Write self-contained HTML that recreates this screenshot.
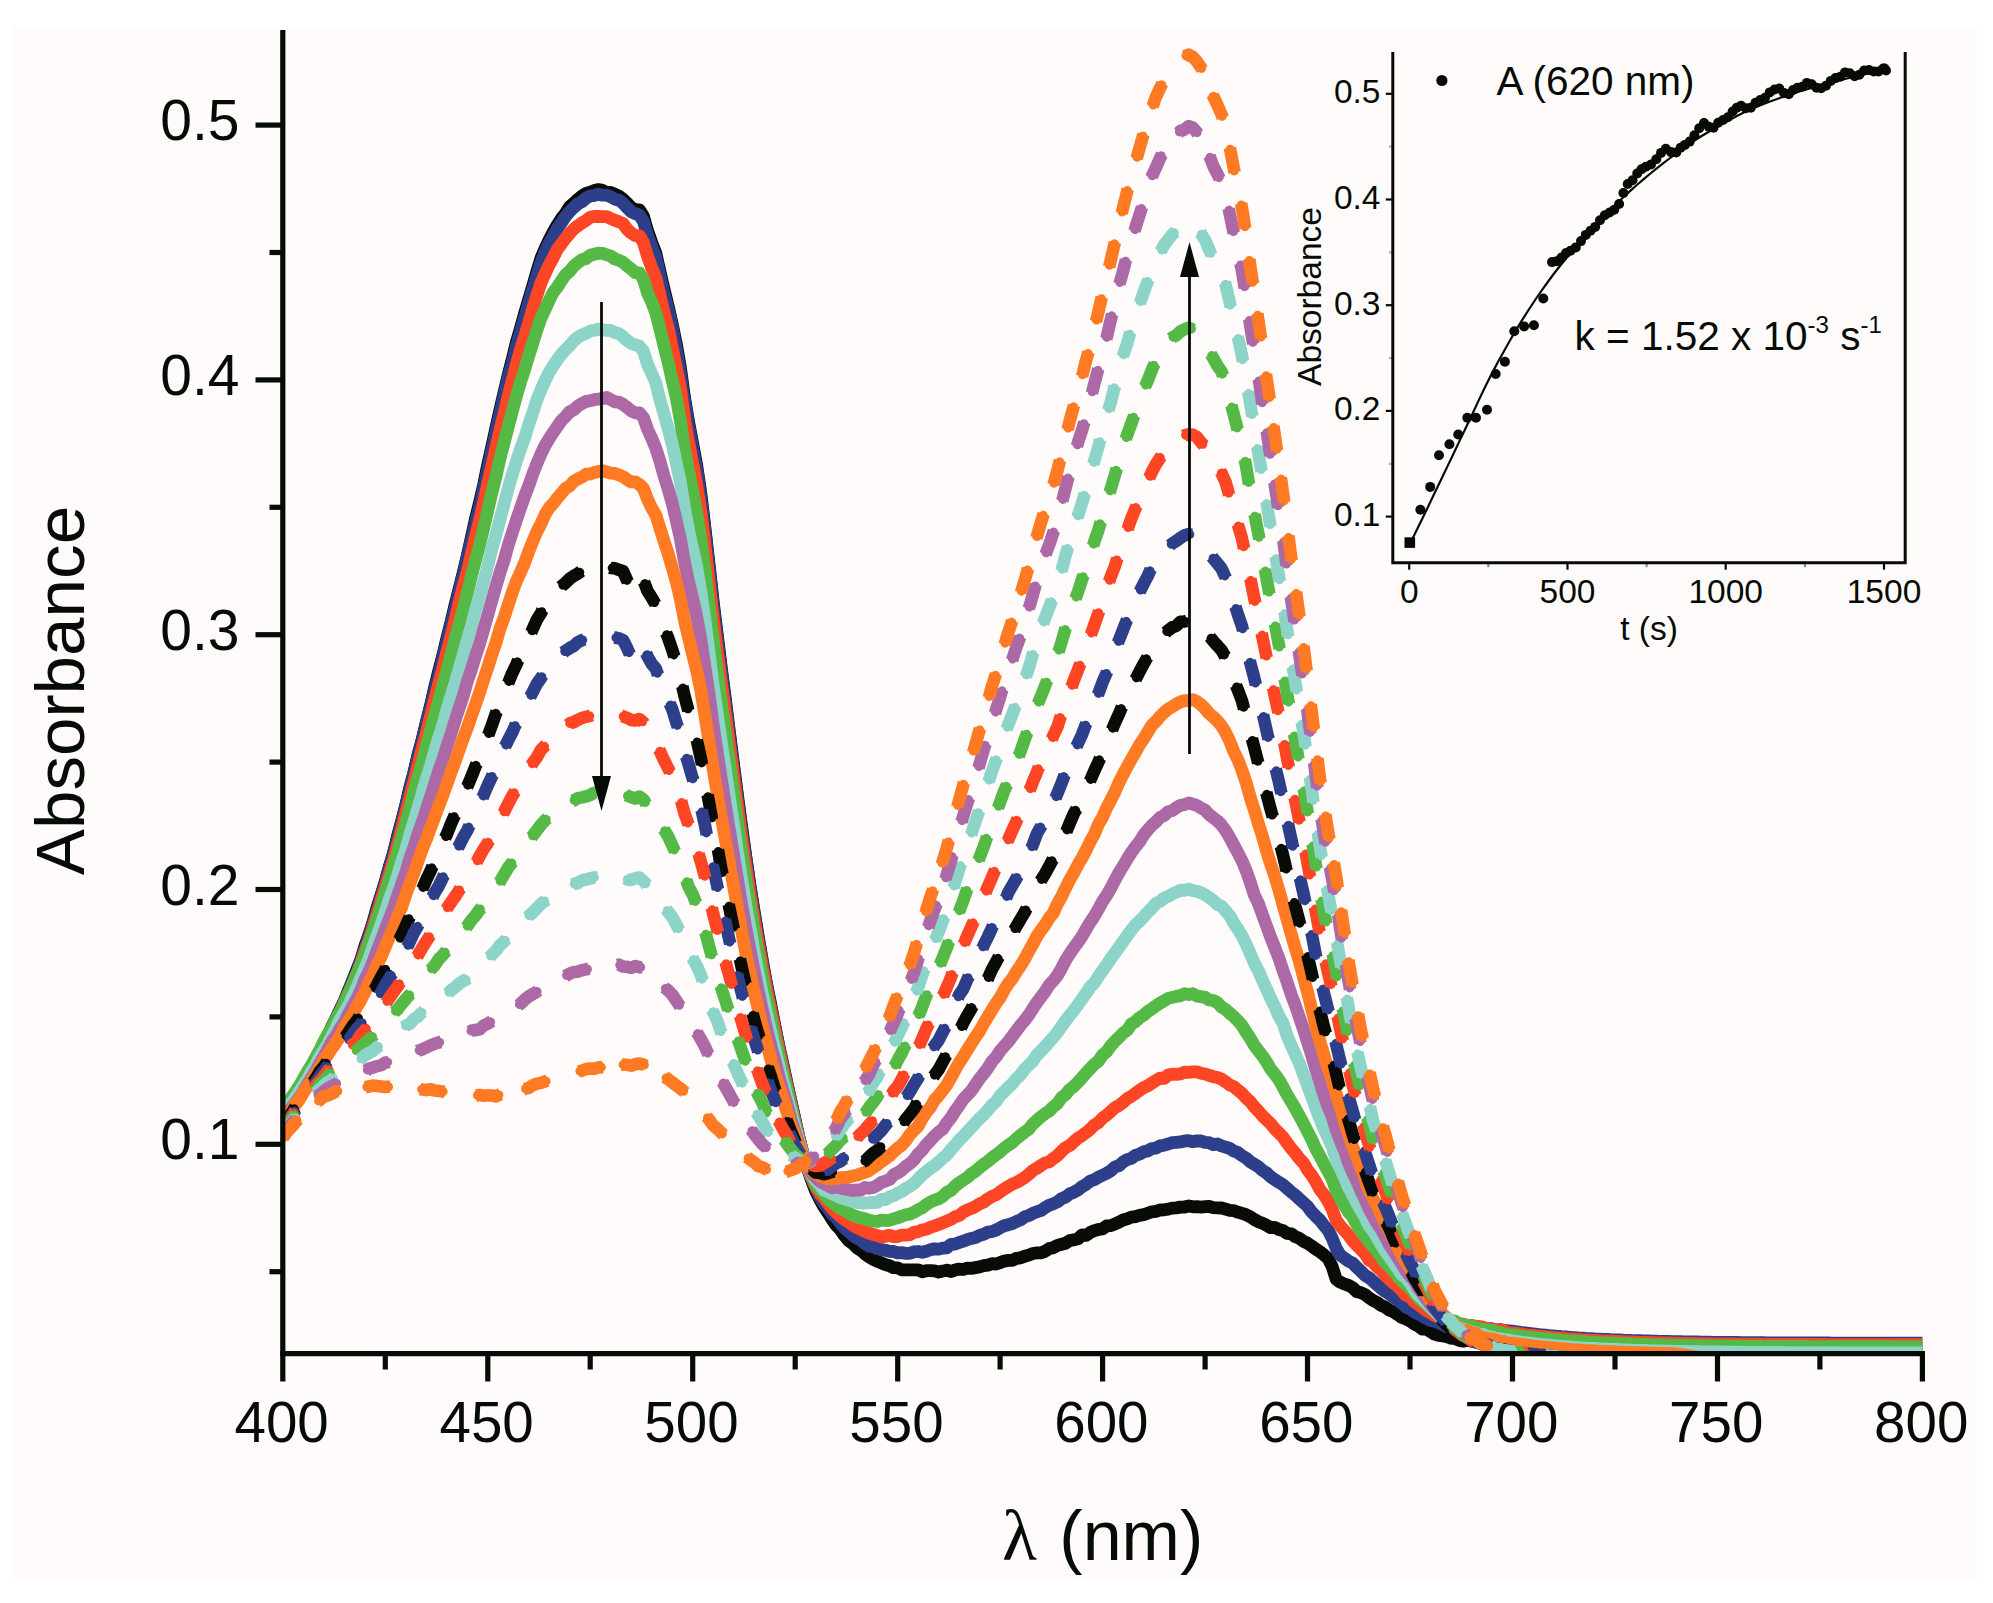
<!DOCTYPE html>
<html lang="en"><head><meta charset="utf-8"><title>Absorbance spectra</title>
<style>html,body{margin:0;padding:0;background:#fff}body{width:1993px;height:1603px;overflow:hidden}svg{display:block}</style>
</head><body>
<svg width="1993" height="1603" viewBox="0 0 1993 1603">
<defs><clipPath id="plot"><rect x="281.8" y="20" width="1641.1" height="1335.1"/></clipPath></defs>
<rect x="13.5" y="26.5" width="1963.5" height="1552.5" fill="#fefbfa"/>
<g clip-path="url(#plot)" fill="none" stroke-linejoin="round">
<path d="M282.8,1115.3 L286.9,1110.5 L291.0,1104.0 L295.1,1097.3 L299.2,1091.1 L303.3,1083.4 L307.4,1075.9 L311.5,1069.1 L315.6,1059.5 L319.7,1051.6 L323.8,1043.9 L327.9,1035.3 L332.0,1026.5 L336.1,1018.4 L340.2,1009.6 L344.3,1001.2 L348.4,990.7 L352.5,981.0 L356.6,970.4 L360.7,960.2 L364.8,946.5 L368.9,934.9 L373.0,922.2 L377.1,907.4 L381.2,894.7 L385.3,881.4 L389.4,866.5 L393.5,853.0 L397.6,836.0 L401.7,821.0 L405.8,805.0 L409.9,787.4 L414.0,772.3 L418.1,754.4 L422.2,739.4 L426.3,722.3 L430.4,706.2 L434.5,688.2 L438.6,671.5 L442.7,656.0 L446.8,638.7 L450.9,622.5 L455.0,605.2 L459.1,589.1 L463.2,572.8 L467.3,555.8 L471.4,537.4 L475.5,518.9 L479.6,502.3 L483.7,484.6 L487.8,464.5 L491.8,446.7 L495.9,428.1 L500.0,409.6 L504.1,392.1 L508.2,375.0 L512.3,359.0 L516.4,342.3 L520.5,328.2 L524.6,313.4 L528.7,299.6 L532.8,285.7 L536.9,271.4 L541.0,258.1 L545.1,248.4 L549.2,239.7 L553.3,231.9 L557.4,224.8 L561.5,218.3 L565.6,213.2 L569.7,206.5 L573.8,203.0 L577.9,199.4 L582.0,196.0 L586.1,193.4 L590.2,192.3 L594.3,190.5 L598.4,189.6 L602.5,190.4 L606.6,192.4 L610.7,192.5 L614.8,194.1 L618.9,196.2 L623.0,199.2 L627.1,203.1 L631.2,207.5 L635.3,209.6 L639.4,209.9 L643.5,216.5 L647.6,231.0 L651.7,242.5 L655.8,253.1 L659.9,271.3 L664.0,289.2 L668.1,305.8 L672.2,324.1 L676.3,343.8 L680.4,367.5 L684.5,397.8 L688.6,422.1 L692.7,443.9 L696.8,465.9 L700.9,493.9 L705.0,528.8 L709.1,564.7 L713.2,602.2 L717.3,635.3 L721.4,669.0 L725.5,700.5 L729.6,733.8 L733.7,765.9 L737.8,797.8 L741.9,828.7 L746.0,858.1 L750.1,886.5 L754.2,912.0 L758.3,937.1 L762.4,961.1 L766.5,983.8 L770.6,1003.9 L774.7,1025.7 L778.8,1045.9 L782.9,1064.3 L787.0,1083.5 L791.1,1102.4 L795.2,1120.8 L799.3,1138.9 L803.4,1155.1 L807.5,1168.3 L811.6,1180.5 L815.7,1191.2 L819.8,1199.4 L823.9,1206.8 L828.0,1212.9 L832.1,1219.4 L836.2,1225.4 L840.3,1229.6 L844.4,1235.5 L848.5,1240.5 L852.6,1243.4 L856.7,1247.7 L860.8,1250.2 L864.9,1253.8 L869.0,1256.9 L873.1,1259.4 L877.2,1261.2 L881.3,1262.8 L885.4,1264.6 L889.5,1265.7 L893.6,1267.7 L897.7,1267.9 L901.7,1269.9 L905.8,1269.8 L909.9,1269.8 L914.0,1269.8 L918.1,1269.8 L922.2,1271.8 L926.3,1270.7 L930.4,1270.6 L934.5,1270.9 L938.6,1272.0 L942.7,1271.1 L946.8,1270.1 L950.9,1271.6 L955.0,1270.0 L959.1,1269.1 L963.2,1269.5 L967.3,1268.2 L971.4,1268.4 L975.5,1267.6 L979.6,1266.9 L983.7,1265.7 L987.8,1265.1 L991.9,1263.7 L996.0,1264.0 L1000.1,1262.6 L1004.2,1261.1 L1008.3,1260.4 L1012.4,1260.4 L1016.5,1258.3 L1020.6,1257.8 L1024.7,1256.2 L1028.8,1255.1 L1032.9,1253.5 L1037.0,1252.9 L1041.1,1252.8 L1045.2,1251.2 L1049.3,1248.6 L1053.4,1247.7 L1057.5,1245.4 L1061.6,1244.3 L1065.7,1243.2 L1069.8,1240.5 L1073.9,1239.9 L1078.0,1238.9 L1082.1,1234.9 L1086.2,1235.4 L1090.3,1232.4 L1094.4,1230.6 L1098.5,1229.5 L1102.6,1228.9 L1106.7,1225.8 L1110.8,1225.6 L1114.9,1224.0 L1119.0,1222.1 L1123.1,1220.0 L1127.2,1218.9 L1131.3,1217.2 L1135.4,1216.7 L1139.5,1215.3 L1143.6,1214.7 L1147.7,1213.3 L1151.8,1211.8 L1155.9,1211.4 L1160.0,1210.0 L1164.1,1209.8 L1168.2,1209.1 L1172.3,1208.1 L1176.4,1207.9 L1180.5,1207.1 L1184.6,1207.0 L1188.7,1205.9 L1192.8,1206.8 L1196.9,1206.7 L1201.0,1207.1 L1205.1,1206.6 L1209.2,1206.5 L1213.3,1207.7 L1217.4,1207.8 L1221.5,1208.0 L1225.6,1209.2 L1229.7,1210.4 L1233.8,1210.6 L1237.9,1212.2 L1242.0,1213.4 L1246.1,1214.7 L1250.2,1216.7 L1254.3,1219.5 L1258.4,1221.7 L1262.5,1223.2 L1266.6,1225.2 L1270.7,1227.7 L1274.8,1227.4 L1278.9,1229.5 L1283.0,1230.7 L1287.1,1233.4 L1291.2,1233.8 L1295.3,1236.7 L1299.4,1238.4 L1303.5,1241.4 L1307.5,1243.2 L1311.6,1246.0 L1315.7,1249.0 L1319.8,1251.6 L1323.9,1254.8 L1328.0,1258.3 L1332.1,1266.3 L1336.2,1279.3 L1340.3,1282.2 L1344.4,1284.0 L1348.5,1285.4 L1352.6,1287.6 L1356.7,1291.5 L1360.8,1292.7 L1364.9,1294.5 L1369.0,1297.7 L1373.1,1300.5 L1377.2,1302.5 L1381.3,1305.4 L1385.4,1307.3 L1389.5,1310.2 L1393.6,1311.9 L1397.7,1314.6 L1401.8,1317.5 L1405.9,1318.9 L1410.0,1320.9 L1414.1,1324.0 L1418.2,1326.0 L1422.3,1329.1 L1426.4,1329.1 L1430.5,1331.7 L1434.6,1334.2 L1438.7,1335.5 L1442.8,1336.0 L1446.9,1336.6 L1451.0,1338.2 L1455.1,1338.7 L1459.2,1340.4 L1463.3,1341.1 L1467.4,1340.3 L1471.5,1340.9 L1475.6,1342.1 L1479.7,1342.3 L1483.8,1344.4 L1487.9,1344.9 L1492.0,1344.9 L1496.1,1345.1 L1500.2,1346.9 L1504.3,1346.6 L1508.4,1348.5 L1512.5,1348.8 L1516.6,1349.4 L1520.7,1350.0 L1524.8,1350.5 L1528.9,1351.0 L1533.0,1351.5 L1537.1,1351.9 L1541.2,1352.4 L1545.3,1352.8 L1549.4,1353.2 L1553.5,1353.6 L1557.6,1353.9 L1561.7,1354.3 L1565.8,1354.6 L1569.9,1354.9 L1574.0,1355.2 L1578.1,1355.5 L1582.2,1355.7 L1586.3,1356.0 L1590.4,1356.2 L1594.5,1356.4 L1598.6,1356.7 L1602.7,1356.9 L1606.8,1357.1 L1610.9,1357.2 L1615.0,1357.4 L1619.1,1357.6 L1623.2,1357.8 L1627.3,1357.9 L1631.4,1358.1 L1635.5,1358.2 L1639.6,1358.3 L1643.7,1358.4 L1647.8,1358.6 L1651.9,1358.7 L1656.0,1358.8 L1660.1,1358.9 L1664.2,1359.0 L1668.3,1359.1 L1672.4,1359.2 L1676.5,1359.2 L1680.6,1359.3 L1684.7,1359.4 L1688.8,1359.5 L1692.9,1359.5 L1697.0,1359.6 L1701.1,1359.7 L1705.2,1359.7 L1709.3,1359.8 L1713.4,1359.8 L1717.5,1359.9 L1721.5,1359.9 L1725.6,1360.0 L1729.7,1360.0 L1733.8,1360.1 L1737.9,1360.1 L1742.0,1360.1 L1746.1,1360.2 L1750.2,1360.2 L1754.3,1360.2 L1758.4,1360.3 L1762.5,1360.3 L1766.6,1360.3 L1770.7,1360.4 L1774.8,1360.4 L1778.9,1360.4 L1783.0,1360.4 L1787.1,1360.5 L1791.2,1360.5 L1795.3,1360.5 L1799.4,1360.5 L1803.5,1360.5 L1807.6,1360.6 L1811.7,1360.6 L1815.8,1360.6 L1819.9,1360.6 L1824.0,1360.6 L1828.1,1360.6 L1832.2,1360.6 L1836.3,1360.6 L1840.4,1360.7 L1844.5,1360.7 L1848.6,1360.7 L1852.7,1360.7 L1856.8,1360.7 L1860.9,1360.7 L1865.0,1360.7 L1869.1,1360.7 L1873.2,1360.7 L1877.3,1360.7 L1881.4,1360.7 L1885.5,1360.8 L1889.6,1360.8 L1893.7,1360.8 L1897.8,1360.8 L1901.9,1360.8 L1906.0,1360.8 L1910.1,1360.8 L1914.2,1360.8 L1918.3,1360.8 L1922.4,1360.8" stroke="#080b06" stroke-width="12.8"/>
<path d="M282.8,1115.9 L286.9,1111.2 L291.0,1103.9 L295.1,1097.5 L299.2,1091.7 L303.3,1082.8 L307.4,1076.5 L311.5,1067.9 L315.6,1060.6 L319.7,1051.6 L323.8,1043.1 L327.9,1036.0 L332.0,1028.0 L336.1,1018.7 L340.2,1009.4 L344.3,1001.1 L348.4,991.8 L352.5,981.3 L356.6,972.6 L360.7,960.3 L364.8,948.9 L368.9,935.5 L373.0,923.2 L377.1,910.0 L381.2,895.8 L385.3,882.4 L389.4,867.3 L393.5,853.2 L397.6,838.0 L401.7,822.5 L405.8,805.4 L409.9,789.5 L414.0,772.6 L418.1,756.1 L422.2,740.5 L426.3,723.4 L430.4,707.2 L434.5,690.8 L438.6,674.7 L442.7,658.2 L446.8,640.9 L450.9,623.4 L455.0,608.4 L459.1,590.9 L463.2,574.6 L467.3,557.0 L471.4,540.1 L475.5,522.4 L479.6,507.0 L483.7,487.6 L487.8,469.3 L491.8,450.1 L495.9,431.8 L500.0,413.5 L504.1,395.2 L508.2,377.3 L512.3,363.4 L516.4,346.5 L520.5,331.7 L524.6,317.8 L528.7,303.4 L532.8,289.4 L536.9,275.9 L541.0,262.7 L545.1,251.7 L549.2,243.3 L553.3,235.9 L557.4,228.4 L561.5,222.5 L565.6,216.5 L569.7,211.5 L573.8,207.5 L577.9,203.7 L582.0,201.8 L586.1,198.1 L590.2,195.8 L594.3,195.6 L598.4,194.1 L602.5,195.2 L606.6,195.1 L610.7,196.7 L614.8,199.1 L618.9,200.2 L623.0,203.2 L627.1,207.7 L631.2,211.7 L635.3,213.7 L639.4,215.0 L643.5,221.5 L647.6,235.8 L651.7,246.4 L655.8,257.0 L659.9,275.5 L664.0,293.8 L668.1,308.8 L672.2,327.2 L676.3,348.8 L680.4,372.3 L684.5,400.9 L688.6,424.3 L692.7,447.7 L696.8,469.0 L700.9,497.3 L705.0,531.4 L709.1,567.5 L713.2,605.2 L717.3,638.3 L721.4,670.6 L725.5,703.5 L729.6,736.1 L733.7,768.6 L737.8,800.5 L741.9,831.9 L746.0,859.0 L750.1,887.3 L754.2,913.9 L758.3,939.0 L762.4,962.5 L766.5,984.5 L770.6,1006.4 L774.7,1025.3 L778.8,1046.4 L782.9,1065.7 L787.0,1083.8 L791.1,1101.9 L795.2,1120.7 L799.3,1139.6 L803.4,1155.2 L807.5,1168.3 L811.6,1179.0 L815.7,1188.5 L819.8,1196.9 L823.9,1203.6 L828.0,1208.4 L832.1,1214.3 L836.2,1217.6 L840.3,1222.9 L844.4,1227.9 L848.5,1231.5 L852.6,1235.2 L856.7,1238.1 L860.8,1240.1 L864.9,1243.8 L869.0,1246.2 L873.1,1246.8 L877.2,1248.6 L881.3,1249.6 L885.4,1250.3 L889.5,1251.4 L893.6,1251.5 L897.7,1252.9 L901.7,1252.7 L905.8,1253.3 L909.9,1253.3 L914.0,1251.9 L918.1,1251.5 L922.2,1252.3 L926.3,1251.2 L930.4,1249.8 L934.5,1248.8 L938.6,1249.1 L942.7,1248.1 L946.8,1247.8 L950.9,1244.4 L955.0,1244.1 L959.1,1242.5 L963.2,1241.2 L967.3,1239.6 L971.4,1238.4 L975.5,1237.5 L979.6,1235.4 L983.7,1234.3 L987.8,1232.1 L991.9,1231.7 L996.0,1230.0 L1000.1,1227.8 L1004.2,1225.8 L1008.3,1224.7 L1012.4,1223.5 L1016.5,1221.5 L1020.6,1219.9 L1024.7,1216.8 L1028.8,1215.5 L1032.9,1213.3 L1037.0,1211.8 L1041.1,1210.4 L1045.2,1207.5 L1049.3,1205.2 L1053.4,1203.7 L1057.5,1201.8 L1061.6,1198.7 L1065.7,1197.0 L1069.8,1193.8 L1073.9,1192.2 L1078.0,1189.9 L1082.1,1186.6 L1086.2,1184.3 L1090.3,1181.0 L1094.4,1179.7 L1098.5,1177.1 L1102.6,1175.2 L1106.7,1173.2 L1110.8,1170.7 L1114.9,1167.0 L1119.0,1165.6 L1123.1,1162.0 L1127.2,1159.6 L1131.3,1158.4 L1135.4,1155.3 L1139.5,1154.1 L1143.6,1151.8 L1147.7,1150.9 L1151.8,1148.6 L1155.9,1148.1 L1160.0,1145.9 L1164.1,1145.2 L1168.2,1144.0 L1172.3,1142.7 L1176.4,1142.3 L1180.5,1141.9 L1184.6,1141.0 L1188.7,1140.7 L1192.8,1141.7 L1196.9,1140.8 L1201.0,1141.0 L1205.1,1142.4 L1209.2,1142.7 L1213.3,1144.6 L1217.4,1144.0 L1221.5,1145.9 L1225.6,1147.1 L1229.7,1148.4 L1233.8,1151.1 L1237.9,1152.6 L1242.0,1155.6 L1246.1,1158.1 L1250.2,1161.8 L1254.3,1164.3 L1258.4,1166.8 L1262.5,1170.4 L1266.6,1173.0 L1270.7,1176.9 L1274.8,1179.6 L1278.9,1182.3 L1283.0,1184.8 L1287.1,1188.4 L1291.2,1192.0 L1295.3,1195.1 L1299.4,1199.1 L1303.5,1202.8 L1307.5,1206.3 L1311.6,1211.8 L1315.7,1216.2 L1319.8,1220.0 L1323.9,1225.3 L1328.0,1230.1 L1332.1,1238.0 L1336.2,1248.4 L1340.3,1255.2 L1344.4,1258.1 L1348.5,1261.2 L1352.6,1263.0 L1356.7,1267.3 L1360.8,1271.1 L1364.9,1275.2 L1369.0,1277.7 L1373.1,1281.2 L1377.2,1284.9 L1381.3,1288.6 L1385.4,1291.6 L1389.5,1294.1 L1393.6,1297.3 L1397.7,1300.4 L1401.8,1303.4 L1405.9,1307.1 L1410.0,1308.8 L1414.1,1312.0 L1418.2,1313.9 L1422.3,1315.9 L1426.4,1318.6 L1430.5,1320.6 L1434.6,1321.2 L1438.7,1322.9 L1442.8,1324.7 L1446.9,1326.9 L1451.0,1326.0 L1455.1,1326.1 L1459.2,1326.2 L1463.3,1327.4 L1467.4,1327.4 L1471.5,1327.1 L1475.6,1326.8 L1479.7,1328.4 L1483.8,1328.1 L1487.9,1329.0 L1492.0,1328.7 L1496.1,1330.1 L1500.2,1329.5 L1504.3,1330.4 L1508.4,1330.8 L1512.5,1331.2 L1516.6,1331.8 L1520.7,1332.4 L1524.8,1332.9 L1528.9,1333.4 L1533.0,1333.9 L1537.1,1334.4 L1541.2,1334.8 L1545.3,1335.2 L1549.4,1335.6 L1553.5,1336.0 L1557.6,1336.3 L1561.7,1336.7 L1565.8,1337.0 L1569.9,1337.3 L1574.0,1337.6 L1578.1,1337.9 L1582.2,1338.1 L1586.3,1338.4 L1590.4,1338.6 L1594.5,1338.9 L1598.6,1339.1 L1602.7,1339.3 L1606.8,1339.5 L1610.9,1339.7 L1615.0,1339.8 L1619.1,1340.0 L1623.2,1340.2 L1627.3,1340.3 L1631.4,1340.5 L1635.5,1340.6 L1639.6,1340.7 L1643.7,1340.9 L1647.8,1341.0 L1651.9,1341.1 L1656.0,1341.2 L1660.1,1341.3 L1664.2,1341.4 L1668.3,1341.5 L1672.4,1341.6 L1676.5,1341.7 L1680.6,1341.7 L1684.7,1341.8 L1688.8,1341.9 L1692.9,1342.0 L1697.0,1342.0 L1701.1,1342.1 L1705.2,1342.1 L1709.3,1342.2 L1713.4,1342.3 L1717.5,1342.3 L1721.5,1342.4 L1725.6,1342.4 L1729.7,1342.4 L1733.8,1342.5 L1737.9,1342.5 L1742.0,1342.6 L1746.1,1342.6 L1750.2,1342.6 L1754.3,1342.7 L1758.4,1342.7 L1762.5,1342.7 L1766.6,1342.8 L1770.7,1342.8 L1774.8,1342.8 L1778.9,1342.8 L1783.0,1342.9 L1787.1,1342.9 L1791.2,1342.9 L1795.3,1342.9 L1799.4,1342.9 L1803.5,1343.0 L1807.6,1343.0 L1811.7,1343.0 L1815.8,1343.0 L1819.9,1343.0 L1824.0,1343.0 L1828.1,1343.0 L1832.2,1343.1 L1836.3,1343.1 L1840.4,1343.1 L1844.5,1343.1 L1848.6,1343.1 L1852.7,1343.1 L1856.8,1343.1 L1860.9,1343.1 L1865.0,1343.1 L1869.1,1343.1 L1873.2,1343.2 L1877.3,1343.2 L1881.4,1343.2 L1885.5,1343.2 L1889.6,1343.2 L1893.7,1343.2 L1897.8,1343.2 L1901.9,1343.2 L1906.0,1343.2 L1910.1,1343.2 L1914.2,1343.2 L1918.3,1343.2 L1922.4,1343.2" stroke="#2d3f8b" stroke-width="12.8"/>
<path d="M282.8,1117.7 L286.9,1110.7 L291.0,1104.6 L295.1,1098.2 L299.2,1091.7 L303.3,1084.8 L307.4,1077.0 L311.5,1069.1 L315.6,1061.4 L319.7,1053.4 L323.8,1045.4 L327.9,1036.8 L332.0,1028.6 L336.1,1020.9 L340.2,1011.5 L344.3,1002.6 L348.4,993.4 L352.5,984.3 L356.6,974.1 L360.7,963.8 L364.8,951.1 L368.9,940.7 L373.0,927.1 L377.1,914.0 L381.2,899.9 L385.3,886.7 L389.4,873.3 L393.5,859.5 L397.6,844.4 L401.7,828.6 L405.8,812.9 L409.9,797.0 L414.0,781.1 L418.1,764.7 L422.2,748.1 L426.3,733.4 L430.4,716.9 L434.5,700.0 L438.6,684.5 L442.7,669.0 L446.8,652.2 L450.9,636.7 L455.0,620.0 L459.1,602.8 L463.2,586.2 L467.3,571.7 L471.4,553.7 L475.5,536.1 L479.6,520.4 L483.7,502.2 L487.8,483.4 L491.8,466.3 L495.9,447.6 L500.0,430.1 L504.1,413.9 L508.2,395.9 L512.3,380.0 L516.4,364.2 L520.5,349.5 L524.6,336.6 L528.7,322.9 L532.8,308.2 L536.9,295.3 L541.0,282.9 L545.1,273.7 L549.2,264.8 L553.3,257.5 L557.4,249.2 L561.5,243.6 L565.6,238.4 L569.7,233.4 L573.8,229.0 L577.9,225.8 L582.0,222.8 L586.1,220.5 L590.2,217.3 L594.3,216.5 L598.4,216.5 L602.5,216.6 L606.6,216.6 L610.7,218.5 L614.8,220.3 L618.9,221.8 L623.0,223.5 L627.1,229.3 L631.2,233.0 L635.3,235.7 L639.4,235.6 L643.5,242.7 L647.6,256.5 L651.7,267.7 L655.8,277.4 L659.9,295.2 L664.0,312.8 L668.1,327.6 L672.2,347.2 L676.3,367.7 L680.4,387.9 L684.5,418.4 L688.6,442.2 L692.7,463.3 L696.8,485.2 L700.9,511.9 L705.0,545.0 L709.1,581.1 L713.2,617.5 L717.3,651.5 L721.4,682.6 L725.5,713.5 L729.6,745.0 L733.7,777.1 L737.8,808.0 L741.9,839.1 L746.0,867.3 L750.1,894.7 L754.2,919.7 L758.3,943.8 L762.4,967.1 L766.5,988.5 L770.6,1008.8 L774.7,1029.1 L778.8,1049.3 L782.9,1068.3 L787.0,1086.5 L791.1,1104.9 L795.2,1122.6 L799.3,1139.8 L803.4,1155.5 L807.5,1167.8 L811.6,1177.8 L815.7,1186.5 L819.8,1193.7 L823.9,1198.0 L828.0,1203.3 L832.1,1208.7 L836.2,1212.6 L840.3,1216.3 L844.4,1219.5 L848.5,1222.2 L852.6,1225.2 L856.7,1227.6 L860.8,1229.6 L864.9,1231.3 L869.0,1233.1 L873.1,1234.4 L877.2,1235.6 L881.3,1237.1 L885.4,1236.3 L889.5,1235.3 L893.6,1236.6 L897.7,1236.5 L901.7,1235.2 L905.8,1235.2 L909.9,1234.6 L914.0,1232.3 L918.1,1231.6 L922.2,1230.0 L926.3,1229.3 L930.4,1227.3 L934.5,1226.0 L938.6,1224.5 L942.7,1222.8 L946.8,1221.0 L950.9,1219.4 L955.0,1216.8 L959.1,1215.5 L963.2,1212.2 L967.3,1210.0 L971.4,1208.4 L975.5,1206.4 L979.6,1203.8 L983.7,1202.1 L987.8,1198.9 L991.9,1196.5 L996.0,1194.9 L1000.1,1191.9 L1004.2,1189.0 L1008.3,1186.5 L1012.4,1184.2 L1016.5,1182.4 L1020.6,1180.1 L1024.7,1177.5 L1028.8,1174.3 L1032.9,1170.5 L1037.0,1168.2 L1041.1,1165.4 L1045.2,1162.9 L1049.3,1161.9 L1053.4,1158.4 L1057.5,1155.5 L1061.6,1151.3 L1065.7,1147.6 L1069.8,1145.4 L1073.9,1141.7 L1078.0,1138.2 L1082.1,1135.6 L1086.2,1132.5 L1090.3,1129.2 L1094.4,1124.9 L1098.5,1122.5 L1102.6,1118.0 L1106.7,1115.1 L1110.8,1111.4 L1114.9,1107.6 L1119.0,1105.5 L1123.1,1102.4 L1127.2,1098.6 L1131.3,1096.4 L1135.4,1093.4 L1139.5,1090.3 L1143.6,1087.6 L1147.7,1085.9 L1151.8,1083.1 L1155.9,1080.5 L1160.0,1078.2 L1164.1,1078.4 L1168.2,1075.1 L1172.3,1074.2 L1176.4,1074.4 L1180.5,1073.9 L1184.6,1072.2 L1188.7,1072.3 L1192.8,1071.9 L1196.9,1071.9 L1201.0,1073.3 L1205.1,1074.0 L1209.2,1075.4 L1213.3,1076.7 L1217.4,1077.6 L1221.5,1079.1 L1225.6,1081.8 L1229.7,1085.0 L1233.8,1086.6 L1237.9,1090.2 L1242.0,1093.3 L1246.1,1098.1 L1250.2,1101.6 L1254.3,1106.9 L1258.4,1111.0 L1262.5,1115.9 L1266.6,1119.9 L1270.7,1123.7 L1274.8,1128.8 L1278.9,1132.8 L1283.0,1137.1 L1287.1,1143.0 L1291.2,1148.3 L1295.3,1153.1 L1299.4,1158.7 L1303.5,1163.0 L1307.5,1169.8 L1311.6,1175.1 L1315.7,1181.7 L1319.8,1189.3 L1323.9,1194.6 L1328.0,1201.2 L1332.1,1209.1 L1336.2,1220.4 L1340.3,1225.9 L1344.4,1230.5 L1348.5,1235.0 L1352.6,1240.8 L1356.7,1245.2 L1360.8,1249.3 L1364.9,1253.6 L1369.0,1260.1 L1373.1,1262.3 L1377.2,1267.2 L1381.3,1270.3 L1385.4,1275.4 L1389.5,1279.6 L1393.6,1283.1 L1397.7,1286.3 L1401.8,1290.5 L1405.9,1295.2 L1410.0,1296.8 L1414.1,1301.4 L1418.2,1304.3 L1422.3,1307.5 L1426.4,1310.7 L1430.5,1313.0 L1434.6,1315.3 L1438.7,1317.3 L1442.8,1318.9 L1446.9,1320.7 L1451.0,1322.8 L1455.1,1323.2 L1459.2,1323.5 L1463.3,1324.3 L1467.4,1325.3 L1471.5,1325.4 L1475.6,1326.2 L1479.7,1326.7 L1483.8,1327.3 L1487.9,1329.1 L1492.0,1329.8 L1496.1,1329.5 L1500.2,1330.1 L1504.3,1330.7 L1508.4,1333.5 L1512.5,1332.8 L1516.6,1333.4 L1520.7,1333.9 L1524.8,1334.5 L1528.9,1335.0 L1533.0,1335.4 L1537.1,1335.9 L1541.2,1336.3 L1545.3,1336.7 L1549.4,1337.1 L1553.5,1337.5 L1557.6,1337.9 L1561.7,1338.2 L1565.8,1338.5 L1569.9,1338.8 L1574.0,1339.1 L1578.1,1339.4 L1582.2,1339.7 L1586.3,1339.9 L1590.4,1340.2 L1594.5,1340.4 L1598.6,1340.6 L1602.7,1340.8 L1606.8,1341.0 L1610.9,1341.2 L1615.0,1341.4 L1619.1,1341.5 L1623.2,1341.7 L1627.3,1341.9 L1631.4,1342.0 L1635.5,1342.1 L1639.6,1342.3 L1643.7,1342.4 L1647.8,1342.5 L1651.9,1342.6 L1656.0,1342.7 L1660.1,1342.8 L1664.2,1342.9 L1668.3,1343.0 L1672.4,1343.1 L1676.5,1343.2 L1680.6,1343.3 L1684.7,1343.4 L1688.8,1343.4 L1692.9,1343.5 L1697.0,1343.6 L1701.1,1343.6 L1705.2,1343.7 L1709.3,1343.7 L1713.4,1343.8 L1717.5,1343.8 L1721.5,1343.9 L1725.6,1343.9 L1729.7,1344.0 L1733.8,1344.0 L1737.9,1344.1 L1742.0,1344.1 L1746.1,1344.1 L1750.2,1344.2 L1754.3,1344.2 L1758.4,1344.2 L1762.5,1344.3 L1766.6,1344.3 L1770.7,1344.3 L1774.8,1344.3 L1778.9,1344.4 L1783.0,1344.4 L1787.1,1344.4 L1791.2,1344.4 L1795.3,1344.4 L1799.4,1344.5 L1803.5,1344.5 L1807.6,1344.5 L1811.7,1344.5 L1815.8,1344.5 L1819.9,1344.5 L1824.0,1344.6 L1828.1,1344.6 L1832.2,1344.6 L1836.3,1344.6 L1840.4,1344.6 L1844.5,1344.6 L1848.6,1344.6 L1852.7,1344.6 L1856.8,1344.6 L1860.9,1344.7 L1865.0,1344.7 L1869.1,1344.7 L1873.2,1344.7 L1877.3,1344.7 L1881.4,1344.7 L1885.5,1344.7 L1889.6,1344.7 L1893.7,1344.7 L1897.8,1344.7 L1901.9,1344.7 L1906.0,1344.7 L1910.1,1344.7 L1914.2,1344.7 L1918.3,1344.7 L1922.4,1344.7" stroke="#fe4524" stroke-width="12.8"/>
<path d="M282.8,1109.7 L286.9,1104.0 L291.0,1098.2 L295.1,1092.1 L299.2,1086.1 L303.3,1078.9 L307.4,1071.6 L311.5,1065.3 L315.6,1057.6 L319.7,1050.0 L323.8,1041.6 L327.9,1034.0 L332.0,1027.3 L336.1,1019.1 L340.2,1011.9 L344.3,1003.3 L348.4,994.1 L352.5,984.7 L356.6,974.9 L360.7,965.4 L364.8,955.1 L368.9,942.7 L373.0,931.1 L377.1,918.4 L381.2,905.8 L385.3,892.6 L389.4,879.4 L393.5,866.0 L397.6,852.8 L401.7,837.5 L405.8,823.4 L409.9,807.9 L414.0,791.5 L418.1,777.1 L422.2,762.8 L426.3,746.2 L430.4,731.4 L434.5,716.1 L438.6,701.4 L442.7,686.0 L446.8,670.9 L450.9,655.8 L455.0,639.0 L459.1,624.6 L463.2,609.1 L467.3,593.3 L471.4,576.2 L475.5,560.7 L479.6,545.0 L483.7,528.0 L487.8,510.4 L491.8,492.8 L495.9,476.9 L500.0,458.5 L504.1,442.7 L508.2,426.9 L512.3,411.3 L516.4,396.1 L520.5,382.1 L524.6,369.8 L528.7,355.9 L532.8,343.0 L536.9,329.9 L541.0,318.2 L545.1,309.3 L549.2,300.4 L553.3,292.2 L557.4,287.0 L561.5,280.6 L565.6,274.7 L569.7,271.1 L573.8,266.2 L577.9,262.7 L582.0,259.7 L586.1,258.5 L590.2,255.2 L594.3,254.2 L598.4,253.1 L602.5,253.4 L606.6,254.8 L610.7,256.1 L614.8,258.9 L618.9,260.3 L623.0,262.3 L627.1,265.9 L631.2,269.0 L635.3,272.6 L639.4,272.8 L643.5,279.7 L647.6,293.1 L651.7,302.1 L655.8,313.0 L659.9,328.8 L664.0,345.8 L668.1,362.2 L672.2,380.3 L676.3,397.8 L680.4,420.7 L684.5,448.9 L688.6,470.6 L692.7,491.2 L696.8,513.0 L700.9,539.1 L705.0,570.6 L709.1,605.3 L713.2,639.4 L717.3,672.1 L721.4,703.0 L725.5,732.9 L729.6,763.1 L733.7,792.8 L737.8,823.7 L741.9,852.9 L746.0,880.8 L750.1,904.9 L754.2,931.1 L758.3,953.6 L762.4,976.4 L766.5,996.8 L770.6,1016.6 L774.7,1037.1 L778.8,1054.7 L782.9,1073.4 L787.0,1089.1 L791.1,1107.5 L795.2,1125.6 L799.3,1141.6 L803.4,1155.2 L807.5,1166.5 L811.6,1175.6 L815.7,1184.3 L819.8,1189.9 L823.9,1193.7 L828.0,1199.1 L832.1,1202.2 L836.2,1205.6 L840.3,1208.6 L844.4,1210.1 L848.5,1213.0 L852.6,1215.2 L856.7,1216.8 L860.8,1217.9 L864.9,1218.7 L869.0,1220.3 L873.1,1221.0 L877.2,1221.5 L881.3,1220.1 L885.4,1220.5 L889.5,1220.3 L893.6,1218.9 L897.7,1217.8 L901.7,1216.2 L905.8,1214.8 L909.9,1214.1 L914.0,1212.2 L918.1,1209.7 L922.2,1207.8 L926.3,1204.7 L930.4,1202.0 L934.5,1200.1 L938.6,1198.9 L942.7,1196.4 L946.8,1192.4 L950.9,1190.5 L955.0,1186.2 L959.1,1182.8 L963.2,1180.2 L967.3,1177.5 L971.4,1173.7 L975.5,1171.2 L979.6,1167.7 L983.7,1164.3 L987.8,1161.4 L991.9,1157.9 L996.0,1154.7 L1000.1,1151.9 L1004.2,1148.1 L1008.3,1145.1 L1012.4,1142.5 L1016.5,1138.5 L1020.6,1135.2 L1024.7,1132.0 L1028.8,1129.2 L1032.9,1123.9 L1037.0,1120.2 L1041.1,1116.7 L1045.2,1113.5 L1049.3,1111.0 L1053.4,1106.7 L1057.5,1103.5 L1061.6,1097.5 L1065.7,1094.4 L1069.8,1089.3 L1073.9,1086.3 L1078.0,1082.1 L1082.1,1077.6 L1086.2,1072.8 L1090.3,1068.5 L1094.4,1064.3 L1098.5,1061.1 L1102.6,1054.9 L1106.7,1051.6 L1110.8,1045.8 L1114.9,1041.2 L1119.0,1037.4 L1123.1,1033.0 L1127.2,1030.2 L1131.3,1024.1 L1135.4,1021.7 L1139.5,1017.7 L1143.6,1015.3 L1147.7,1011.5 L1151.8,1009.1 L1155.9,1005.8 L1160.0,1003.2 L1164.1,1000.9 L1168.2,998.4 L1172.3,997.4 L1176.4,996.4 L1180.5,995.6 L1184.6,993.7 L1188.7,994.6 L1192.8,993.7 L1196.9,996.1 L1201.0,996.7 L1205.1,997.4 L1209.2,1000.0 L1213.3,1000.5 L1217.4,1002.7 L1221.5,1007.0 L1225.6,1009.4 L1229.7,1013.2 L1233.8,1016.6 L1237.9,1020.8 L1242.0,1025.5 L1246.1,1032.1 L1250.2,1038.3 L1254.3,1045.4 L1258.4,1050.8 L1262.5,1055.9 L1266.6,1062.0 L1270.7,1069.1 L1274.8,1074.3 L1278.9,1079.7 L1283.0,1087.1 L1287.1,1094.8 L1291.2,1101.5 L1295.3,1108.5 L1299.4,1115.9 L1303.5,1123.5 L1307.5,1131.3 L1311.6,1139.3 L1315.7,1148.5 L1319.8,1155.8 L1323.9,1163.8 L1328.0,1171.4 L1332.1,1178.9 L1336.2,1190.9 L1340.3,1198.0 L1344.4,1205.3 L1348.5,1212.0 L1352.6,1216.8 L1356.7,1224.6 L1360.8,1230.5 L1364.9,1236.5 L1369.0,1241.6 L1373.1,1246.9 L1377.2,1251.6 L1381.3,1257.2 L1385.4,1262.9 L1389.5,1266.6 L1393.6,1271.2 L1397.7,1276.3 L1401.8,1280.7 L1405.9,1284.4 L1410.0,1288.0 L1414.1,1292.9 L1418.2,1297.6 L1422.3,1300.9 L1426.4,1304.3 L1430.5,1308.6 L1434.6,1310.4 L1438.7,1314.1 L1442.8,1315.9 L1446.9,1318.3 L1451.0,1320.5 L1455.1,1321.1 L1459.2,1323.8 L1463.3,1325.0 L1467.4,1325.4 L1471.5,1325.8 L1475.6,1327.5 L1479.7,1329.1 L1483.8,1329.1 L1487.9,1330.1 L1492.0,1330.1 L1496.1,1332.2 L1500.2,1332.7 L1504.3,1333.8 L1508.4,1335.0 L1512.5,1334.8 L1516.6,1335.4 L1520.7,1336.0 L1524.8,1336.5 L1528.9,1337.0 L1533.0,1337.5 L1537.1,1337.9 L1541.2,1338.4 L1545.3,1338.8 L1549.4,1339.2 L1553.5,1339.6 L1557.6,1339.9 L1561.7,1340.3 L1565.8,1340.6 L1569.9,1340.9 L1574.0,1341.2 L1578.1,1341.4 L1582.2,1341.7 L1586.3,1342.0 L1590.4,1342.2 L1594.5,1342.4 L1598.6,1342.6 L1602.7,1342.9 L1606.8,1343.0 L1610.9,1343.2 L1615.0,1343.4 L1619.1,1343.6 L1623.2,1343.7 L1627.3,1343.9 L1631.4,1344.0 L1635.5,1344.2 L1639.6,1344.3 L1643.7,1344.4 L1647.8,1344.6 L1651.9,1344.7 L1656.0,1344.8 L1660.1,1344.9 L1664.2,1345.0 L1668.3,1345.1 L1672.4,1345.2 L1676.5,1345.2 L1680.6,1345.3 L1684.7,1345.4 L1688.8,1345.5 L1692.9,1345.5 L1697.0,1345.6 L1701.1,1345.7 L1705.2,1345.7 L1709.3,1345.8 L1713.4,1345.8 L1717.5,1345.9 L1721.5,1345.9 L1725.6,1346.0 L1729.7,1346.0 L1733.8,1346.1 L1737.9,1346.1 L1742.0,1346.1 L1746.1,1346.2 L1750.2,1346.2 L1754.3,1346.2 L1758.4,1346.3 L1762.5,1346.3 L1766.6,1346.3 L1770.7,1346.3 L1774.8,1346.4 L1778.9,1346.4 L1783.0,1346.4 L1787.1,1346.4 L1791.2,1346.5 L1795.3,1346.5 L1799.4,1346.5 L1803.5,1346.5 L1807.6,1346.5 L1811.7,1346.6 L1815.8,1346.6 L1819.9,1346.6 L1824.0,1346.6 L1828.1,1346.6 L1832.2,1346.6 L1836.3,1346.6 L1840.4,1346.6 L1844.5,1346.7 L1848.6,1346.7 L1852.7,1346.7 L1856.8,1346.7 L1860.9,1346.7 L1865.0,1346.7 L1869.1,1346.7 L1873.2,1346.7 L1877.3,1346.7 L1881.4,1346.7 L1885.5,1346.7 L1889.6,1346.7 L1893.7,1346.8 L1897.8,1346.8 L1901.9,1346.8 L1906.0,1346.8 L1910.1,1346.8 L1914.2,1346.8 L1918.3,1346.8 L1922.4,1346.8" stroke="#55b945" stroke-width="12.8"/>
<path d="M282.8,1116.9 L286.9,1110.9 L291.0,1103.3 L295.1,1098.1 L299.2,1092.1 L303.3,1085.6 L307.4,1079.4 L311.5,1071.8 L315.6,1064.9 L319.7,1057.0 L323.8,1050.7 L327.9,1044.2 L332.0,1035.9 L336.1,1027.9 L340.2,1019.4 L344.3,1012.4 L348.4,1005.5 L352.5,996.7 L356.6,988.3 L360.7,978.4 L364.8,968.9 L368.9,958.8 L373.0,946.7 L377.1,935.6 L381.2,924.2 L385.3,912.1 L389.4,899.2 L393.5,888.1 L397.6,875.7 L401.7,861.9 L405.8,849.7 L409.9,834.5 L414.0,821.5 L418.1,807.6 L422.2,793.3 L426.3,778.8 L430.4,766.4 L434.5,751.7 L438.6,738.2 L442.7,725.3 L446.8,710.1 L450.9,697.0 L455.0,683.4 L459.1,668.9 L463.2,654.8 L467.3,639.8 L471.4,626.2 L475.5,610.4 L479.6,596.3 L483.7,581.5 L487.8,565.9 L491.8,549.5 L495.9,535.0 L500.0,519.5 L504.1,503.8 L508.2,488.3 L512.3,474.4 L516.4,461.3 L520.5,449.1 L524.6,438.1 L528.7,424.5 L532.8,412.7 L536.9,399.9 L541.0,389.8 L545.1,380.5 L549.2,372.4 L553.3,365.6 L557.4,359.5 L561.5,354.1 L565.6,349.7 L569.7,345.6 L573.8,340.7 L577.9,337.1 L582.0,334.9 L586.1,333.3 L590.2,331.0 L594.3,330.2 L598.4,329.1 L602.5,329.9 L606.6,330.3 L610.7,330.4 L614.8,332.5 L618.9,333.6 L623.0,336.7 L627.1,340.4 L631.2,343.5 L635.3,344.9 L639.4,346.2 L643.5,351.3 L647.6,364.5 L651.7,373.4 L655.8,383.0 L659.9,399.5 L664.0,413.9 L668.1,428.5 L672.2,444.0 L676.3,463.0 L680.4,482.4 L684.5,507.7 L688.6,530.6 L692.7,548.9 L696.8,567.6 L700.9,592.0 L705.0,620.6 L709.1,652.9 L713.2,685.5 L717.3,714.1 L721.4,743.1 L725.5,770.8 L729.6,798.6 L733.7,825.9 L737.8,854.6 L741.9,881.3 L746.0,907.0 L750.1,928.2 L754.2,952.5 L758.3,973.8 L762.4,994.3 L766.5,1013.4 L770.6,1031.6 L774.7,1048.4 L778.8,1065.4 L782.9,1081.5 L787.0,1097.8 L791.1,1113.2 L795.2,1128.1 L799.3,1143.6 L803.4,1156.5 L807.5,1167.8 L811.6,1173.9 L815.7,1180.2 L819.8,1184.4 L823.9,1190.4 L828.0,1191.6 L832.1,1193.8 L836.2,1195.5 L840.3,1197.7 L844.4,1198.9 L848.5,1200.1 L852.6,1201.6 L856.7,1202.5 L860.8,1202.8 L864.9,1203.0 L869.0,1202.6 L873.1,1202.5 L877.2,1202.4 L881.3,1199.3 L885.4,1199.5 L889.5,1196.9 L893.6,1195.7 L897.7,1193.2 L901.7,1191.4 L905.8,1188.5 L909.9,1186.3 L914.0,1183.5 L918.1,1179.1 L922.2,1174.8 L926.3,1171.6 L930.4,1168.2 L934.5,1165.6 L938.6,1161.9 L942.7,1158.2 L946.8,1154.9 L950.9,1149.6 L955.0,1145.3 L959.1,1140.3 L963.2,1136.2 L967.3,1131.9 L971.4,1127.3 L975.5,1122.9 L979.6,1118.5 L983.7,1114.8 L987.8,1110.1 L991.9,1105.2 L996.0,1101.7 L1000.1,1095.7 L1004.2,1091.7 L1008.3,1087.5 L1012.4,1083.6 L1016.5,1078.4 L1020.6,1074.7 L1024.7,1069.0 L1028.8,1065.0 L1032.9,1061.1 L1037.0,1054.8 L1041.1,1050.8 L1045.2,1046.4 L1049.3,1041.9 L1053.4,1037.3 L1057.5,1032.2 L1061.6,1026.3 L1065.7,1020.5 L1069.8,1015.3 L1073.9,1010.2 L1078.0,1004.7 L1082.1,998.8 L1086.2,993.1 L1090.3,986.9 L1094.4,982.9 L1098.5,976.3 L1102.6,970.6 L1106.7,964.8 L1110.8,958.6 L1114.9,953.0 L1119.0,947.1 L1123.1,941.6 L1127.2,935.6 L1131.3,930.1 L1135.4,924.8 L1139.5,921.2 L1143.6,917.0 L1147.7,912.1 L1151.8,908.3 L1155.9,903.5 L1160.0,901.4 L1164.1,898.1 L1168.2,896.4 L1172.3,894.0 L1176.4,892.2 L1180.5,890.1 L1184.6,890.3 L1188.7,889.1 L1192.8,890.6 L1196.9,891.3 L1201.0,892.8 L1205.1,894.8 L1209.2,897.5 L1213.3,900.6 L1217.4,904.5 L1221.5,906.1 L1225.6,910.9 L1229.7,915.7 L1233.8,923.1 L1237.9,929.1 L1242.0,935.8 L1246.1,944.0 L1250.2,953.6 L1254.3,963.0 L1258.4,970.9 L1262.5,980.3 L1266.6,989.2 L1270.7,998.4 L1274.8,1006.6 L1278.9,1016.2 L1283.0,1023.1 L1287.1,1035.7 L1291.2,1045.6 L1295.3,1054.2 L1299.4,1063.6 L1303.5,1074.6 L1307.5,1085.6 L1311.6,1096.5 L1315.7,1107.8 L1319.8,1118.8 L1323.9,1128.6 L1328.0,1137.6 L1332.1,1146.7 L1336.2,1160.0 L1340.3,1168.4 L1344.4,1177.3 L1348.5,1185.8 L1352.6,1194.9 L1356.7,1203.2 L1360.8,1210.0 L1364.9,1217.2 L1369.0,1225.7 L1373.1,1231.1 L1377.2,1237.6 L1381.3,1244.7 L1385.4,1251.5 L1389.5,1257.0 L1393.6,1263.0 L1397.7,1268.3 L1401.8,1274.9 L1405.9,1277.6 L1410.0,1282.6 L1414.1,1289.3 L1418.2,1294.9 L1422.3,1298.6 L1426.4,1302.9 L1430.5,1306.7 L1434.6,1311.0 L1438.7,1315.2 L1442.8,1319.4 L1446.9,1320.7 L1451.0,1323.1 L1455.1,1325.9 L1459.2,1327.4 L1463.3,1329.1 L1467.4,1330.6 L1471.5,1332.1 L1475.6,1332.6 L1479.7,1334.9 L1483.8,1334.4 L1487.9,1336.8 L1492.0,1336.9 L1496.1,1338.5 L1500.2,1338.7 L1504.3,1339.8 L1508.4,1340.0 L1512.5,1340.9 L1516.6,1341.5 L1520.7,1342.1 L1524.8,1342.6 L1528.9,1343.1 L1533.0,1343.6 L1537.1,1344.1 L1541.2,1344.5 L1545.3,1344.9 L1549.4,1345.3 L1553.5,1345.7 L1557.6,1346.0 L1561.7,1346.4 L1565.8,1346.7 L1569.9,1347.0 L1574.0,1347.3 L1578.1,1347.6 L1582.2,1347.8 L1586.3,1348.1 L1590.4,1348.3 L1594.5,1348.5 L1598.6,1348.8 L1602.7,1349.0 L1606.8,1349.2 L1610.9,1349.4 L1615.0,1349.5 L1619.1,1349.7 L1623.2,1349.9 L1627.3,1350.0 L1631.4,1350.2 L1635.5,1350.3 L1639.6,1350.4 L1643.7,1350.5 L1647.8,1350.7 L1651.9,1350.8 L1656.0,1350.9 L1660.1,1351.0 L1664.2,1351.1 L1668.3,1351.2 L1672.4,1351.3 L1676.5,1351.3 L1680.6,1351.4 L1684.7,1351.5 L1688.8,1351.6 L1692.9,1351.6 L1697.0,1351.7 L1701.1,1351.8 L1705.2,1351.8 L1709.3,1351.9 L1713.4,1351.9 L1717.5,1352.0 L1721.5,1352.0 L1725.6,1352.1 L1729.7,1352.1 L1733.8,1352.2 L1737.9,1352.2 L1742.0,1352.2 L1746.1,1352.3 L1750.2,1352.3 L1754.3,1352.4 L1758.4,1352.4 L1762.5,1352.4 L1766.6,1352.4 L1770.7,1352.5 L1774.8,1352.5 L1778.9,1352.5 L1783.0,1352.5 L1787.1,1352.6 L1791.2,1352.6 L1795.3,1352.6 L1799.4,1352.6 L1803.5,1352.6 L1807.6,1352.7 L1811.7,1352.7 L1815.8,1352.7 L1819.9,1352.7 L1824.0,1352.7 L1828.1,1352.7 L1832.2,1352.7 L1836.3,1352.7 L1840.4,1352.8 L1844.5,1352.8 L1848.6,1352.8 L1852.7,1352.8 L1856.8,1352.8 L1860.9,1352.8 L1865.0,1352.8 L1869.1,1352.8 L1873.2,1352.8 L1877.3,1352.8 L1881.4,1352.8 L1885.5,1352.9 L1889.6,1352.9 L1893.7,1352.9 L1897.8,1352.9 L1901.9,1352.9 L1906.0,1352.9 L1910.1,1352.9 L1914.2,1352.9 L1918.3,1352.9 L1922.4,1352.9" stroke="#8cd4c8" stroke-width="12.8"/>
<path d="M282.8,1120.8 L286.9,1114.8 L291.0,1108.6 L295.1,1103.5 L299.2,1097.9 L303.3,1091.6 L307.4,1084.2 L311.5,1078.0 L315.6,1071.2 L319.7,1063.5 L323.8,1056.9 L327.9,1049.1 L332.0,1041.5 L336.1,1035.8 L340.2,1028.5 L344.3,1022.4 L348.4,1014.0 L352.5,1006.7 L356.6,998.9 L360.7,990.7 L364.8,979.6 L368.9,971.8 L373.0,961.7 L377.1,950.7 L381.2,940.0 L385.3,929.3 L389.4,918.5 L393.5,908.0 L397.6,895.6 L401.7,883.9 L405.8,872.5 L409.9,858.3 L414.0,846.8 L418.1,833.4 L422.2,822.3 L426.3,809.8 L430.4,797.0 L434.5,784.6 L438.6,771.1 L442.7,760.0 L446.8,746.4 L450.9,734.4 L455.0,720.8 L459.1,708.3 L463.2,695.9 L467.3,681.5 L471.4,669.7 L475.5,655.9 L479.6,643.8 L483.7,629.3 L487.8,615.0 L491.8,600.6 L495.9,586.5 L500.0,572.6 L504.1,560.2 L508.2,545.4 L512.3,532.6 L516.4,520.1 L520.5,508.2 L524.6,496.4 L528.7,485.8 L532.8,474.0 L536.9,463.7 L541.0,453.9 L545.1,445.4 L549.2,438.6 L553.3,432.3 L557.4,426.3 L561.5,420.5 L565.6,416.5 L569.7,411.8 L573.8,409.7 L577.9,406.0 L582.0,403.6 L586.1,401.4 L590.2,400.7 L594.3,399.6 L598.4,399.2 L602.5,398.4 L606.6,397.5 L610.7,399.7 L614.8,401.8 L618.9,402.2 L623.0,404.3 L627.1,407.4 L631.2,410.9 L635.3,412.8 L639.4,413.0 L643.5,417.7 L647.6,429.4 L651.7,438.2 L655.8,448.2 L659.9,461.1 L664.0,475.8 L668.1,488.8 L672.2,503.2 L676.3,520.6 L680.4,538.8 L684.5,562.0 L688.6,581.5 L692.7,598.8 L696.8,616.9 L700.9,639.7 L705.0,667.3 L709.1,695.0 L713.2,725.6 L717.3,752.5 L721.4,779.4 L725.5,806.0 L729.6,830.7 L733.7,855.7 L737.8,881.0 L741.9,906.0 L746.0,928.6 L750.1,950.2 L754.2,970.9 L758.3,991.1 L762.4,1009.8 L766.5,1027.7 L770.6,1044.8 L774.7,1059.4 L778.8,1076.1 L782.9,1090.0 L787.0,1104.1 L791.1,1119.6 L795.2,1132.1 L799.3,1145.9 L803.4,1157.2 L807.5,1166.2 L811.6,1173.3 L815.7,1177.5 L819.8,1181.3 L823.9,1183.5 L828.0,1185.6 L832.1,1187.9 L836.2,1187.2 L840.3,1188.1 L844.4,1188.9 L848.5,1189.7 L852.6,1190.6 L856.7,1189.9 L860.8,1190.0 L864.9,1187.5 L869.0,1188.3 L873.1,1187.5 L877.2,1185.4 L881.3,1182.3 L885.4,1181.1 L889.5,1179.6 L893.6,1174.8 L897.7,1172.7 L901.7,1170.2 L905.8,1166.3 L909.9,1163.6 L914.0,1159.8 L918.1,1154.1 L922.2,1150.1 L926.3,1144.7 L930.4,1140.5 L934.5,1135.9 L938.6,1132.2 L942.7,1129.2 L946.8,1122.8 L950.9,1117.9 L955.0,1111.1 L959.1,1105.6 L963.2,1099.3 L967.3,1095.0 L971.4,1090.8 L975.5,1084.6 L979.6,1078.7 L983.7,1073.6 L987.8,1068.1 L991.9,1061.5 L996.0,1057.0 L1000.1,1050.9 L1004.2,1046.1 L1008.3,1041.7 L1012.4,1036.2 L1016.5,1030.7 L1020.6,1025.2 L1024.7,1020.4 L1028.8,1014.9 L1032.9,1008.6 L1037.0,1002.3 L1041.1,996.9 L1045.2,991.4 L1049.3,984.9 L1053.4,980.5 L1057.5,975.3 L1061.6,968.2 L1065.7,960.1 L1069.8,953.6 L1073.9,947.6 L1078.0,942.1 L1082.1,936.1 L1086.2,929.0 L1090.3,922.1 L1094.4,916.0 L1098.5,908.9 L1102.6,901.2 L1106.7,895.4 L1110.8,888.1 L1114.9,880.1 L1119.0,872.7 L1123.1,866.0 L1127.2,859.1 L1131.3,852.5 L1135.4,846.9 L1139.5,841.9 L1143.6,835.1 L1147.7,830.0 L1151.8,825.4 L1155.9,821.9 L1160.0,817.5 L1164.1,815.5 L1168.2,811.6 L1172.3,810.6 L1176.4,807.6 L1180.5,805.3 L1184.6,804.6 L1188.7,803.0 L1192.8,804.1 L1196.9,805.5 L1201.0,807.9 L1205.1,810.2 L1209.2,814.6 L1213.3,817.8 L1217.4,820.8 L1221.5,825.0 L1225.6,830.5 L1229.7,837.5 L1233.8,845.1 L1237.9,852.7 L1242.0,860.8 L1246.1,870.5 L1250.2,882.0 L1254.3,895.0 L1258.4,903.3 L1262.5,914.8 L1266.6,926.1 L1270.7,937.4 L1274.8,947.5 L1278.9,958.1 L1283.0,970.6 L1287.1,981.9 L1291.2,994.5 L1295.3,1005.2 L1299.4,1017.2 L1303.5,1029.6 L1307.5,1042.1 L1311.6,1055.0 L1315.7,1069.2 L1319.8,1082.3 L1323.9,1095.0 L1328.0,1106.6 L1332.1,1116.5 L1336.2,1130.1 L1340.3,1140.6 L1344.4,1151.0 L1348.5,1162.8 L1352.6,1172.5 L1356.7,1180.8 L1360.8,1190.6 L1364.9,1199.3 L1369.0,1208.6 L1373.1,1216.5 L1377.2,1223.5 L1381.3,1229.4 L1385.4,1237.0 L1389.5,1245.2 L1393.6,1251.1 L1397.7,1257.6 L1401.8,1263.9 L1405.9,1270.8 L1410.0,1275.9 L1414.1,1280.5 L1418.2,1288.1 L1422.3,1293.0 L1426.4,1299.2 L1430.5,1304.8 L1434.6,1309.3 L1438.7,1313.1 L1442.8,1317.1 L1446.9,1321.8 L1451.0,1324.9 L1455.1,1328.2 L1459.2,1331.5 L1463.3,1332.3 L1467.4,1333.6 L1471.5,1335.3 L1475.6,1338.3 L1479.7,1339.1 L1483.8,1340.8 L1487.9,1343.0 L1492.0,1344.2 L1496.1,1345.5 L1500.2,1346.3 L1504.3,1346.3 L1508.4,1348.6 L1512.5,1348.8 L1516.6,1349.4 L1520.7,1350.0 L1524.8,1350.5 L1528.9,1351.0 L1533.0,1351.5 L1537.1,1351.9 L1541.2,1352.4 L1545.3,1352.8 L1549.4,1353.2 L1553.5,1353.6 L1557.6,1353.9 L1561.7,1354.3 L1565.8,1354.6 L1569.9,1354.9 L1574.0,1355.2 L1578.1,1355.5 L1582.2,1355.7 L1586.3,1356.0 L1590.4,1356.2 L1594.5,1356.4 L1598.6,1356.7 L1602.7,1356.9 L1606.8,1357.1 L1610.9,1357.2 L1615.0,1357.4 L1619.1,1357.6 L1623.2,1357.8 L1627.3,1357.9 L1631.4,1358.1 L1635.5,1358.2 L1639.6,1358.3 L1643.7,1358.4 L1647.8,1358.6 L1651.9,1358.7 L1656.0,1358.8 L1660.1,1358.9 L1664.2,1359.0 L1668.3,1359.1 L1672.4,1359.2 L1676.5,1359.2 L1680.6,1359.3 L1684.7,1359.4 L1688.8,1359.5 L1692.9,1359.5 L1697.0,1359.6 L1701.1,1359.7 L1705.2,1359.7 L1709.3,1359.8 L1713.4,1359.8 L1717.5,1359.9 L1721.5,1359.9 L1725.6,1360.0 L1729.7,1360.0 L1733.8,1360.1 L1737.9,1360.1 L1742.0,1360.1 L1746.1,1360.2 L1750.2,1360.2 L1754.3,1360.2 L1758.4,1360.3 L1762.5,1360.3 L1766.6,1360.3 L1770.7,1360.4 L1774.8,1360.4 L1778.9,1360.4 L1783.0,1360.4 L1787.1,1360.5 L1791.2,1360.5 L1795.3,1360.5 L1799.4,1360.5 L1803.5,1360.5 L1807.6,1360.6 L1811.7,1360.6 L1815.8,1360.6 L1819.9,1360.6 L1824.0,1360.6 L1828.1,1360.6 L1832.2,1360.6 L1836.3,1360.6 L1840.4,1360.7 L1844.5,1360.7 L1848.6,1360.7 L1852.7,1360.7 L1856.8,1360.7 L1860.9,1360.7 L1865.0,1360.7 L1869.1,1360.7 L1873.2,1360.7 L1877.3,1360.7 L1881.4,1360.7 L1885.5,1360.8 L1889.6,1360.8 L1893.7,1360.8 L1897.8,1360.8 L1901.9,1360.8 L1906.0,1360.8 L1910.1,1360.8 L1914.2,1360.8 L1918.3,1360.8 L1922.4,1360.8" stroke="#ad69a5" stroke-width="12.8"/>
<path d="M282.8,1124.0 L286.9,1116.4 L291.0,1110.8 L295.1,1105.0 L299.2,1099.9 L303.3,1092.8 L307.4,1086.1 L311.5,1080.5 L315.6,1073.9 L319.7,1067.5 L323.8,1060.4 L327.9,1054.5 L332.0,1048.3 L336.1,1042.6 L340.2,1036.3 L344.3,1028.3 L348.4,1021.2 L352.5,1014.7 L356.6,1007.1 L360.7,1000.5 L364.8,992.1 L368.9,983.3 L373.0,974.7 L377.1,964.5 L381.2,956.8 L385.3,946.8 L389.4,937.0 L393.5,927.4 L397.6,916.4 L401.7,907.3 L405.8,894.6 L409.9,883.6 L414.0,872.8 L418.1,861.0 L422.2,849.4 L426.3,839.6 L430.4,828.3 L434.5,817.4 L438.6,806.2 L442.7,795.6 L446.8,784.5 L450.9,772.6 L455.0,762.0 L459.1,749.9 L463.2,738.6 L467.3,727.9 L471.4,715.9 L475.5,704.4 L479.6,692.5 L483.7,679.5 L487.8,667.5 L491.8,654.5 L495.9,642.9 L500.0,628.8 L504.1,617.6 L508.2,605.1 L512.3,592.3 L516.4,581.3 L520.5,572.3 L524.6,562.8 L528.7,551.4 L532.8,541.4 L536.9,531.6 L541.0,523.7 L545.1,514.5 L549.2,507.7 L553.3,503.5 L557.4,497.9 L561.5,493.3 L565.6,488.3 L569.7,485.9 L573.8,481.3 L577.9,478.9 L582.0,477.0 L586.1,474.2 L590.2,474.0 L594.3,472.5 L598.4,471.5 L602.5,470.8 L606.6,471.9 L610.7,473.1 L614.8,473.4 L618.9,475.0 L623.0,476.6 L627.1,479.5 L631.2,481.9 L635.3,481.8 L639.4,484.4 L643.5,488.5 L647.6,499.4 L651.7,508.0 L655.8,514.9 L659.9,528.1 L664.0,541.1 L668.1,553.6 L672.2,567.5 L676.3,582.1 L680.4,599.1 L684.5,620.6 L688.6,637.7 L692.7,654.7 L696.8,671.2 L700.9,690.9 L705.0,715.9 L709.1,742.1 L713.2,769.5 L717.3,793.3 L721.4,818.0 L725.5,840.3 L729.6,863.8 L733.7,887.1 L737.8,909.6 L741.9,932.7 L746.0,954.2 L750.1,972.7 L754.2,992.1 L758.3,1009.4 L762.4,1026.9 L766.5,1042.4 L770.6,1058.6 L774.7,1073.1 L778.8,1086.6 L782.9,1098.4 L787.0,1112.6 L791.1,1125.0 L795.2,1137.2 L799.3,1147.8 L803.4,1157.7 L807.5,1165.7 L811.6,1169.8 L815.7,1173.9 L819.8,1176.0 L823.9,1177.6 L828.0,1179.1 L832.1,1178.6 L836.2,1178.4 L840.3,1177.6 L844.4,1177.4 L848.5,1177.1 L852.6,1176.0 L856.7,1175.3 L860.8,1173.6 L864.9,1172.4 L869.0,1170.6 L873.1,1167.7 L877.2,1165.0 L881.3,1161.8 L885.4,1158.8 L889.5,1155.7 L893.6,1151.9 L897.7,1148.1 L901.7,1145.2 L905.8,1140.6 L909.9,1134.5 L914.0,1130.3 L918.1,1126.2 L922.2,1118.5 L926.3,1112.2 L930.4,1107.3 L934.5,1100.1 L938.6,1095.6 L942.7,1090.4 L946.8,1085.0 L950.9,1077.6 L955.0,1070.0 L959.1,1062.9 L963.2,1056.7 L967.3,1049.7 L971.4,1043.4 L975.5,1036.9 L979.6,1031.0 L983.7,1023.5 L987.8,1016.8 L991.9,1009.9 L996.0,1003.3 L1000.1,997.7 L1004.2,989.9 L1008.3,983.5 L1012.4,978.4 L1016.5,971.5 L1020.6,965.7 L1024.7,958.9 L1028.8,951.1 L1032.9,944.0 L1037.0,936.0 L1041.1,930.2 L1045.2,924.6 L1049.3,917.8 L1053.4,912.9 L1057.5,903.6 L1061.6,896.5 L1065.7,887.8 L1069.8,879.6 L1073.9,872.5 L1078.0,864.7 L1082.1,857.8 L1086.2,850.0 L1090.3,841.4 L1094.4,834.0 L1098.5,824.1 L1102.6,817.2 L1106.7,807.7 L1110.8,800.1 L1114.9,792.0 L1119.0,782.5 L1123.1,774.4 L1127.2,766.8 L1131.3,759.2 L1135.4,752.3 L1139.5,744.9 L1143.6,738.8 L1147.7,732.1 L1151.8,725.4 L1155.9,721.4 L1160.0,716.5 L1164.1,712.5 L1168.2,709.1 L1172.3,706.7 L1176.4,704.0 L1180.5,701.9 L1184.6,700.6 L1188.7,700.6 L1192.8,699.6 L1196.9,701.5 L1201.0,704.6 L1205.1,708.6 L1209.2,713.6 L1213.3,716.9 L1217.4,721.0 L1221.5,725.8 L1225.6,732.4 L1229.7,741.0 L1233.8,751.6 L1237.9,759.7 L1242.0,770.6 L1246.1,782.4 L1250.2,797.3 L1254.3,810.0 L1258.4,823.7 L1262.5,836.4 L1266.6,850.9 L1270.7,864.3 L1274.8,876.5 L1278.9,890.0 L1283.0,905.2 L1287.1,919.4 L1291.2,934.3 L1295.3,948.2 L1299.4,961.2 L1303.5,977.1 L1307.5,992.0 L1311.6,1008.9 L1315.7,1025.5 L1319.8,1041.0 L1323.9,1055.1 L1328.0,1068.5 L1332.1,1079.7 L1336.2,1094.0 L1340.3,1107.0 L1344.4,1121.0 L1348.5,1133.6 L1352.6,1146.3 L1356.7,1157.0 L1360.8,1167.7 L1364.9,1178.9 L1369.0,1190.7 L1373.1,1198.7 L1377.2,1205.5 L1381.3,1215.2 L1385.4,1223.6 L1389.5,1231.4 L1393.6,1239.1 L1397.7,1247.4 L1401.8,1255.0 L1405.9,1262.3 L1410.0,1268.4 L1414.1,1275.6 L1418.2,1281.3 L1422.3,1287.0 L1426.4,1293.4 L1430.5,1300.2 L1434.6,1305.9 L1438.7,1311.0 L1442.8,1314.3 L1446.9,1317.9 L1451.0,1321.2 L1455.1,1324.4 L1459.2,1327.9 L1463.3,1330.4 L1467.4,1330.5 L1471.5,1332.9 L1475.6,1333.1 L1479.7,1336.9 L1483.8,1337.6 L1487.9,1338.7 L1492.0,1339.1 L1496.1,1339.8 L1500.2,1341.4 L1504.3,1341.5 L1508.4,1343.3 L1512.5,1343.2 L1516.6,1343.8 L1520.7,1344.4 L1524.8,1344.9 L1528.9,1345.4 L1533.0,1345.9 L1537.1,1346.3 L1541.2,1346.8 L1545.3,1347.2 L1549.4,1347.6 L1553.5,1348.0 L1557.6,1348.3 L1561.7,1348.7 L1565.8,1349.0 L1569.9,1349.3 L1574.0,1349.6 L1578.1,1349.9 L1582.2,1350.1 L1586.3,1350.4 L1590.4,1350.6 L1594.5,1350.8 L1598.6,1351.1 L1602.7,1351.3 L1606.8,1351.5 L1610.9,1351.6 L1615.0,1351.8 L1619.1,1352.0 L1623.2,1352.1 L1627.3,1352.3 L1631.4,1352.4 L1635.5,1352.6 L1639.6,1352.7 L1643.7,1352.8 L1647.8,1353.0 L1651.9,1353.1 L1656.0,1353.2 L1660.1,1353.3 L1664.2,1353.4 L1668.3,1353.5 L1672.4,1353.7 L1676.5,1354.0 L1680.6,1354.5 L1684.7,1355.1 L1688.8,1355.7 L1692.9,1356.3 L1697.0,1356.8 L1701.1,1357.3 L1705.2,1357.6 L1709.3,1357.7 L1713.4,1357.8 L1717.5,1357.9 L1721.5,1357.9 L1725.6,1357.9 L1729.7,1358.0 L1733.8,1358.0 L1737.9,1358.1 L1742.0,1358.1 L1746.1,1358.1 L1750.2,1358.2 L1754.3,1358.2 L1758.4,1358.2 L1762.5,1358.3 L1766.6,1358.3 L1770.7,1358.3 L1774.8,1358.4 L1778.9,1358.4 L1783.0,1358.4 L1787.1,1358.4 L1791.2,1358.4 L1795.3,1358.5 L1799.4,1358.5 L1803.5,1358.5 L1807.6,1358.5 L1811.7,1358.5 L1815.8,1358.5 L1819.9,1358.6 L1824.0,1358.6 L1828.1,1358.6 L1832.2,1358.6 L1836.3,1358.6 L1840.4,1358.6 L1844.5,1358.6 L1848.6,1358.6 L1852.7,1358.7 L1856.8,1358.7 L1860.9,1358.7 L1865.0,1358.7 L1869.1,1358.7 L1873.2,1358.7 L1877.3,1358.7 L1881.4,1358.7 L1885.5,1358.7 L1889.6,1358.7 L1893.7,1358.7 L1897.8,1358.7 L1901.9,1358.7 L1906.0,1358.7 L1910.1,1358.7 L1914.2,1358.8 L1918.3,1358.8 L1922.4,1358.8" stroke="#ff7a22" stroke-width="12.8"/>
<defs><path id="d7" d="M282.8,1125.1 L286.9,1120.1 L291.0,1114.1 L295.1,1107.6 L299.2,1102.4 L303.3,1097.5 L307.4,1090.1 L311.5,1084.5 L315.6,1078.7 L319.7,1071.7 L323.8,1066.9 L327.9,1060.6 L332.0,1055.3 L336.1,1048.4 L340.2,1045.2 L344.3,1038.4 L348.4,1032.5 L352.5,1026.2 L356.6,1020.9 L360.7,1014.5 L364.8,1006.5 L368.9,1000.3 L373.0,992.4 L377.1,984.9 L381.2,976.8 L385.3,969.7 L389.4,961.1 L393.5,952.7 L397.6,944.0 L401.7,934.6 L405.8,925.8 L409.9,916.5 L414.0,907.5 L418.1,897.4 L422.2,889.3 L426.3,879.8 L430.4,871.3 L434.5,861.8 L438.6,851.5 L442.7,842.7 L446.8,834.4 L450.9,824.0 L455.0,814.8 L459.1,805.9 L463.2,795.7 L467.3,786.5 L471.4,776.7 L475.5,766.4 L479.6,757.3 L483.7,746.0 L487.8,736.2 L491.8,725.4 L495.9,713.6 L500.0,703.4 L504.1,693.4 L508.2,683.0 L512.3,672.9 L516.4,664.5 L520.5,654.6 L524.6,646.3 L528.7,638.0 L532.8,628.8 L536.9,619.6 L541.0,613.2 L545.1,604.5 L549.2,600.5 L553.3,594.7 L557.4,591.6 L561.5,586.2 L565.6,582.8 L569.7,578.7 L573.8,575.8 L577.9,573.7 L582.0,570.4 L586.1,569.3 L590.2,568.6 L594.3,566.9 L598.4,568.1 L602.5,566.8 L606.6,566.2 L610.7,567.9 L614.8,568.3 L618.9,569.9 L623.0,571.1 L627.1,580.4 L631.2,589.5 L635.3,583.1 L639.4,576.6 L643.5,580.4 L647.6,591.2 L651.7,597.6 L655.8,604.7 L659.9,616.5 L664.0,628.1 L668.1,637.8 L672.2,649.7 L676.3,662.8 L680.4,677.8 L684.5,695.8 L688.6,711.3 L692.7,725.7 L696.8,740.2 L700.9,758.6 L705.0,780.6 L709.1,802.8 L713.2,825.4 L717.3,845.8 L721.4,869.3 L725.5,888.8 L729.6,909.1 L733.7,928.6 L737.8,949.3 L741.9,968.1 L746.0,985.8 L750.1,1003.9 L754.2,1019.7 L758.3,1034.0 L762.4,1049.0 L766.5,1064.3 L770.6,1075.2 L774.7,1088.8 L778.8,1099.5 L782.9,1110.8 L787.0,1121.4 L791.1,1131.9 L795.2,1141.4 L799.3,1151.4 L803.4,1159.7 L807.5,1165.1 L811.6,1168.8 L815.7,1172.7 L819.8,1172.8 L823.9,1174.3 L828.0,1173.1 L832.1,1171.7 L836.2,1171.1 L840.3,1169.6 L844.4,1169.0 L848.5,1167.8 L852.6,1167.0 L856.7,1164.3 L860.8,1162.4 L864.9,1161.1 L869.0,1157.0 L873.1,1153.3 L877.2,1150.5 L881.3,1146.3 L885.4,1143.0 L889.5,1139.1 L893.6,1134.1 L897.7,1129.7 L901.7,1125.4 L905.8,1119.2 L909.9,1114.2 L914.0,1108.8 L918.1,1101.7 L922.2,1094.7 L926.3,1087.2 L930.4,1080.0 L934.5,1075.1 L938.6,1069.6 L942.7,1061.9 L946.8,1054.4 L950.9,1048.1 L955.0,1039.8 L959.1,1031.5 L963.2,1023.1 L967.3,1015.6 L971.4,1008.6 L975.5,1000.7 L979.6,994.0 L983.7,986.1 L987.8,978.7 L991.9,969.5 L996.0,962.1 L1000.1,954.6 L1004.2,948.4 L1008.3,939.9 L1012.4,933.4 L1016.5,926.1 L1020.6,919.1 L1024.7,912.3 L1028.8,904.3 L1032.9,896.7 L1037.0,888.0 L1041.1,880.1 L1045.2,873.5 L1049.3,866.0 L1053.4,858.3 L1057.5,851.5 L1061.6,842.8 L1065.7,833.0 L1069.8,823.0 L1073.9,813.5 L1078.0,806.2 L1082.1,798.0 L1086.2,790.1 L1090.3,780.2 L1094.4,770.7 L1098.5,761.9 L1102.6,752.2 L1106.7,743.1 L1110.8,732.8 L1114.9,722.9 L1119.0,713.8 L1123.1,704.3 L1127.2,695.8 L1131.3,687.7 L1135.4,679.6 L1139.5,671.7 L1143.6,664.0 L1147.7,656.7 L1151.8,649.3 L1155.9,643.4 L1160.0,637.9 L1164.1,633.7 L1168.2,630.4 L1172.3,627.2 L1176.4,625.8 L1180.5,621.8 L1184.6,621.4 L1188.7,620.4 L1192.8,619.6 L1196.9,623.4 L1201.0,626.3 L1205.1,629.9 L1209.2,636.0 L1213.3,641.2 L1217.4,645.6 L1221.5,650.2 L1225.6,657.2 L1229.7,668.1 L1233.8,680.2 L1237.9,690.0 L1242.0,700.9 L1246.1,716.8 L1250.2,732.6 L1254.3,747.6 L1258.4,763.6 L1262.5,779.8 L1266.6,793.8 L1270.7,809.5 L1274.8,823.6 L1278.9,839.3 L1283.0,855.1 L1287.1,872.8 L1291.2,889.6 L1295.3,906.0 L1299.4,921.7 L1303.5,937.3 L1307.5,955.1 L1311.6,972.7 L1315.7,991.8 L1319.8,1010.1 L1323.9,1026.7 L1328.0,1040.8 L1332.1,1056.3 L1336.2,1073.9 L1340.3,1090.9 L1344.4,1105.0 L1348.5,1119.8 L1352.6,1133.9 L1356.7,1147.1 L1360.8,1158.4 L1364.9,1170.2 L1369.0,1182.0 L1373.1,1192.7 L1377.2,1201.4 L1381.3,1211.0 L1385.4,1220.1 L1389.5,1228.6 L1393.6,1238.2 L1397.7,1247.4 L1401.8,1254.6 L1405.9,1262.7 L1410.0,1269.3 L1414.1,1277.6 L1418.2,1284.3 L1422.3,1290.8 L1426.4,1298.0 L1430.5,1304.5 L1434.6,1310.5 L1438.7,1315.7 L1442.8,1320.8 L1446.9,1324.7 L1451.0,1328.8 L1455.1,1330.8 L1459.2,1335.2 L1463.3,1336.6 L1467.4,1339.5 L1471.5,1340.1 L1475.6,1341.5 L1479.7,1344.4 L1483.8,1344.1 L1487.9,1346.8 L1492.0,1347.8 L1496.1,1348.2 L1500.2,1349.8 L1504.3,1349.5 L1508.4,1350.5 L1512.5,1351.4 L1516.6,1352.0 L1520.7,1352.5 L1524.8,1353.1 L1528.9,1353.6 L1533.0,1354.0 L1537.1,1354.5 L1541.2,1354.9 L1545.3,1355.3 L1549.4,1355.7 L1553.5,1356.1 L1557.6,1356.5 L1561.7,1356.8 L1565.8,1357.1 L1569.9,1357.4 L1574.0,1357.7 L1578.1,1358.0 L1582.2,1358.3 L1586.3,1358.5 L1590.4,1358.8 L1594.5,1359.0 L1598.6,1359.2 L1602.7,1359.4 L1606.8,1359.6 L1610.9,1359.8 L1615.0,1360.0 L1619.1,1360.1 L1623.2,1360.3 L1627.3,1360.5 L1631.4,1360.6 L1635.5,1360.7 L1639.6,1360.9 L1643.7,1361.0 L1647.8,1361.1 L1651.9,1361.2 L1656.0,1361.3 L1660.1,1361.4 L1664.2,1361.5 L1668.3,1361.6 L1672.4,1361.7 L1676.5,1361.8 L1680.6,1361.9 L1684.7,1362.0 L1688.8,1362.0 L1692.9,1362.1 L1697.0,1362.2 L1701.1,1362.2 L1705.2,1362.3 L1709.3,1362.3 L1713.4,1362.4 L1717.5,1362.4 L1721.5,1362.5 L1725.6,1362.5 L1729.7,1362.6 L1733.8,1362.6 L1737.9,1362.7 L1742.0,1362.7 L1746.1,1362.7 L1750.2,1362.8 L1754.3,1362.8 L1758.4,1362.8 L1762.5,1362.9 L1766.6,1362.9 L1770.7,1362.9 L1774.8,1362.9 L1778.9,1363.0 L1783.0,1363.0 L1787.1,1363.0 L1791.2,1363.0 L1795.3,1363.0 L1799.4,1363.1 L1803.5,1363.1 L1807.6,1363.1 L1811.7,1363.1 L1815.8,1363.1 L1819.9,1363.1 L1824.0,1363.2 L1828.1,1363.2 L1832.2,1363.2 L1836.3,1363.2 L1840.4,1363.2 L1844.5,1363.2 L1848.6,1363.2 L1852.7,1363.2 L1856.8,1363.2 L1860.9,1363.3 L1865.0,1363.3 L1869.1,1363.3 L1873.2,1363.3 L1877.3,1363.3 L1881.4,1363.3 L1885.5,1363.3 L1889.6,1363.3 L1893.7,1363.3 L1897.8,1363.3 L1901.9,1363.3 L1906.0,1363.3 L1910.1,1363.3 L1914.2,1363.3 L1918.3,1363.3 L1922.4,1363.3"/></defs>
<use href="#d7" stroke="#080b06" stroke-width="9.4" stroke-linecap="round" stroke-dasharray="21.0 34.8" stroke-dashoffset="1.3"/>
<use href="#d7" stroke="#080b06" stroke-width="12.6" stroke-linecap="butt" stroke-dasharray="25.0 30.8" stroke-dashoffset="3.3"/>
<defs><path id="d8" d="M282.8,1127.3 L286.9,1122.0 L291.0,1115.8 L295.1,1110.5 L299.2,1103.0 L303.3,1099.1 L307.4,1092.9 L311.5,1088.1 L315.6,1082.6 L319.7,1076.4 L323.8,1071.1 L327.9,1065.9 L332.0,1060.8 L336.1,1055.2 L340.2,1049.6 L344.3,1044.5 L348.4,1040.5 L352.5,1034.4 L356.6,1029.1 L360.7,1024.7 L364.8,1018.7 L368.9,1012.2 L373.0,1004.6 L377.1,999.2 L381.2,992.4 L385.3,984.6 L389.4,978.5 L393.5,971.5 L397.6,963.8 L401.7,956.4 L405.8,950.0 L409.9,941.4 L414.0,932.4 L418.1,925.6 L422.2,916.2 L426.3,909.1 L430.4,901.0 L434.5,893.1 L438.6,886.3 L442.7,877.7 L446.8,870.0 L450.9,861.3 L455.0,852.6 L459.1,845.6 L463.2,837.4 L467.3,830.4 L471.4,821.2 L475.5,812.8 L479.6,804.2 L483.7,794.9 L487.8,785.3 L491.8,776.8 L495.9,767.2 L500.0,758.9 L504.1,748.6 L508.2,740.0 L512.3,732.3 L516.4,723.0 L520.5,715.8 L524.6,707.2 L528.7,699.6 L532.8,691.9 L536.9,683.7 L541.0,678.0 L545.1,672.0 L549.2,666.7 L553.3,662.0 L557.4,658.4 L561.5,654.0 L565.6,650.7 L569.7,648.1 L573.8,645.9 L577.9,642.1 L582.0,640.2 L586.1,638.7 L590.2,637.2 L594.3,635.7 L598.4,636.0 L602.5,635.2 L606.6,636.4 L610.7,637.3 L614.8,637.5 L618.9,638.4 L623.0,640.0 L627.1,647.9 L631.2,657.3 L635.3,650.9 L639.4,644.0 L643.5,647.0 L647.6,656.5 L651.7,663.8 L655.8,668.6 L659.9,680.2 L664.0,690.7 L668.1,700.1 L672.2,709.0 L676.3,722.3 L680.4,734.7 L684.5,751.1 L688.6,764.3 L692.7,778.4 L696.8,791.0 L700.9,807.0 L705.0,825.4 L709.1,846.9 L713.2,867.1 L717.3,886.5 L721.4,904.2 L725.5,922.5 L729.6,941.2 L733.7,958.5 L737.8,977.4 L741.9,993.8 L746.0,1010.5 L750.1,1025.4 L754.2,1038.9 L758.3,1051.8 L762.4,1065.8 L766.5,1078.2 L770.6,1089.7 L774.7,1099.6 L778.8,1109.8 L782.9,1118.5 L787.0,1127.2 L791.1,1136.6 L795.2,1145.7 L799.3,1152.8 L803.4,1160.1 L807.5,1165.2 L811.6,1166.4 L815.7,1167.7 L819.8,1168.7 L823.9,1169.3 L828.0,1169.6 L832.1,1166.2 L836.2,1163.1 L840.3,1161.4 L844.4,1158.3 L848.5,1157.4 L852.6,1154.3 L856.7,1151.9 L860.8,1149.0 L864.9,1146.9 L869.0,1142.8 L873.1,1138.8 L877.2,1134.9 L881.3,1130.8 L885.4,1125.4 L889.5,1120.5 L893.6,1114.5 L897.7,1108.8 L901.7,1103.6 L905.8,1097.7 L909.9,1091.7 L914.0,1084.6 L918.1,1078.2 L922.2,1068.9 L926.3,1060.2 L930.4,1053.4 L934.5,1045.7 L938.6,1040.2 L942.7,1032.2 L946.8,1024.5 L950.9,1015.0 L955.0,1005.5 L959.1,994.8 L963.2,989.0 L967.3,979.6 L971.4,971.0 L975.5,962.3 L979.6,954.1 L983.7,945.3 L987.8,937.0 L991.9,928.1 L996.0,919.4 L1000.1,909.6 L1004.2,902.6 L1008.3,892.4 L1012.4,885.3 L1016.5,878.3 L1020.6,869.7 L1024.7,861.3 L1028.8,853.6 L1032.9,844.5 L1037.0,833.5 L1041.1,826.3 L1045.2,817.3 L1049.3,809.8 L1053.4,803.2 L1057.5,793.2 L1061.6,783.2 L1065.7,772.0 L1069.8,762.2 L1073.9,752.2 L1078.0,743.1 L1082.1,734.3 L1086.2,723.6 L1090.3,713.8 L1094.4,703.1 L1098.5,693.2 L1102.6,682.1 L1106.7,672.7 L1110.8,661.8 L1114.9,650.1 L1119.0,640.0 L1123.1,629.6 L1127.2,619.3 L1131.3,610.8 L1135.4,600.7 L1139.5,591.9 L1143.6,583.9 L1147.7,576.1 L1151.8,566.8 L1155.9,560.8 L1160.0,555.9 L1164.1,550.5 L1168.2,546.7 L1172.3,543.5 L1176.4,540.9 L1180.5,537.9 L1184.6,535.3 L1188.7,534.2 L1192.8,535.1 L1196.9,537.0 L1201.0,541.0 L1205.1,546.4 L1209.2,552.8 L1213.3,558.5 L1217.4,563.4 L1221.5,568.5 L1225.6,577.4 L1229.7,590.6 L1233.8,601.4 L1237.9,614.4 L1242.0,626.2 L1246.1,642.9 L1250.2,662.5 L1254.3,678.1 L1258.4,695.3 L1262.5,712.3 L1266.6,730.7 L1270.7,748.7 L1274.8,765.1 L1278.9,781.8 L1283.0,800.7 L1287.1,819.9 L1291.2,838.6 L1295.3,857.9 L1299.4,875.4 L1303.5,893.5 L1307.5,912.4 L1311.6,933.2 L1315.7,954.7 L1319.8,974.3 L1323.9,993.1 L1328.0,1009.3 L1332.1,1025.0 L1336.2,1044.4 L1340.3,1061.5 L1344.4,1078.4 L1348.5,1096.5 L1352.6,1110.8 L1356.7,1125.3 L1360.8,1138.9 L1364.9,1152.0 L1369.0,1164.2 L1373.1,1176.7 L1377.2,1187.4 L1381.3,1197.9 L1385.4,1207.2 L1389.5,1217.2 L1393.6,1227.9 L1397.7,1237.3 L1401.8,1245.7 L1405.9,1253.4 L1410.0,1262.4 L1414.1,1269.3 L1418.2,1277.9 L1422.3,1285.7 L1426.4,1293.3 L1430.5,1300.8 L1434.6,1307.8 L1438.7,1313.4 L1442.8,1318.5 L1446.9,1323.0 L1451.0,1326.2 L1455.1,1329.6 L1459.2,1333.5 L1463.3,1335.8 L1467.4,1338.8 L1471.5,1341.2 L1475.6,1342.0 L1479.7,1343.4 L1483.8,1344.2 L1487.9,1344.8 L1492.0,1347.1 L1496.1,1347.5 L1500.2,1348.5 L1504.3,1349.9 L1508.4,1350.2 L1512.5,1351.4 L1516.6,1352.0 L1520.7,1352.5 L1524.8,1353.1 L1528.9,1353.6 L1533.0,1354.0 L1537.1,1354.5 L1541.2,1354.9 L1545.3,1355.3 L1549.4,1355.7 L1553.5,1356.1 L1557.6,1356.5 L1561.7,1356.8 L1565.8,1357.1 L1569.9,1357.4 L1574.0,1357.7 L1578.1,1358.0 L1582.2,1358.3 L1586.3,1358.5 L1590.4,1358.8 L1594.5,1359.0 L1598.6,1359.2 L1602.7,1359.4 L1606.8,1359.6 L1610.9,1359.8 L1615.0,1360.0 L1619.1,1360.1 L1623.2,1360.3 L1627.3,1360.5 L1631.4,1360.6 L1635.5,1360.7 L1639.6,1360.9 L1643.7,1361.0 L1647.8,1361.1 L1651.9,1361.2 L1656.0,1361.3 L1660.1,1361.4 L1664.2,1361.5 L1668.3,1361.6 L1672.4,1361.7 L1676.5,1361.8 L1680.6,1361.9 L1684.7,1362.0 L1688.8,1362.0 L1692.9,1362.1 L1697.0,1362.2 L1701.1,1362.2 L1705.2,1362.3 L1709.3,1362.3 L1713.4,1362.4 L1717.5,1362.4 L1721.5,1362.5 L1725.6,1362.5 L1729.7,1362.6 L1733.8,1362.6 L1737.9,1362.7 L1742.0,1362.7 L1746.1,1362.7 L1750.2,1362.8 L1754.3,1362.8 L1758.4,1362.8 L1762.5,1362.9 L1766.6,1362.9 L1770.7,1362.9 L1774.8,1362.9 L1778.9,1363.0 L1783.0,1363.0 L1787.1,1363.0 L1791.2,1363.0 L1795.3,1363.0 L1799.4,1363.1 L1803.5,1363.1 L1807.6,1363.1 L1811.7,1363.1 L1815.8,1363.1 L1819.9,1363.1 L1824.0,1363.2 L1828.1,1363.2 L1832.2,1363.2 L1836.3,1363.2 L1840.4,1363.2 L1844.5,1363.2 L1848.6,1363.2 L1852.7,1363.2 L1856.8,1363.2 L1860.9,1363.3 L1865.0,1363.3 L1869.1,1363.3 L1873.2,1363.3 L1877.3,1363.3 L1881.4,1363.3 L1885.5,1363.3 L1889.6,1363.3 L1893.7,1363.3 L1897.8,1363.3 L1901.9,1363.3 L1906.0,1363.3 L1910.1,1363.3 L1914.2,1363.3 L1918.3,1363.3 L1922.4,1363.3"/></defs>
<use href="#d8" stroke="#2d3f8b" stroke-width="9.4" stroke-linecap="round" stroke-dasharray="21.0 34.8" stroke-dashoffset="1.3"/>
<use href="#d8" stroke="#2d3f8b" stroke-width="12.6" stroke-linecap="butt" stroke-dasharray="25.0 30.8" stroke-dashoffset="3.3"/>
<defs><path id="d9" d="M282.8,1129.5 L286.9,1124.0 L291.0,1117.9 L295.1,1111.7 L299.2,1107.0 L303.3,1101.3 L307.4,1097.5 L311.5,1091.0 L315.6,1085.4 L319.7,1080.9 L323.8,1076.5 L327.9,1070.7 L332.0,1066.6 L336.1,1061.2 L340.2,1058.1 L344.3,1053.5 L348.4,1049.3 L352.5,1044.7 L356.6,1041.3 L360.7,1034.9 L364.8,1030.3 L368.9,1025.7 L373.0,1020.4 L377.1,1014.5 L381.2,1009.0 L385.3,1003.8 L389.4,998.0 L393.5,992.0 L397.6,986.5 L401.7,980.3 L405.8,974.0 L409.9,967.5 L414.0,961.5 L418.1,954.9 L422.2,947.8 L426.3,941.2 L430.4,935.2 L434.5,930.7 L438.6,923.2 L442.7,915.7 L446.8,908.6 L450.9,902.4 L455.0,896.7 L459.1,890.4 L463.2,883.9 L467.3,876.2 L471.4,870.3 L475.5,864.2 L479.6,856.2 L483.7,849.0 L487.8,843.1 L491.8,834.7 L495.9,826.0 L500.0,818.3 L504.1,811.8 L508.2,803.7 L512.3,795.9 L516.4,789.4 L520.5,783.6 L524.6,776.6 L528.7,769.4 L532.8,762.7 L536.9,757.3 L541.0,749.7 L545.1,745.7 L549.2,742.1 L553.3,737.4 L557.4,735.2 L561.5,730.8 L565.6,727.5 L569.7,723.3 L573.8,722.1 L577.9,719.9 L582.0,718.0 L586.1,716.8 L590.2,715.9 L594.3,713.9 L598.4,713.8 L602.5,713.1 L606.6,713.5 L610.7,714.9 L614.8,715.1 L618.9,715.5 L623.0,716.3 L627.1,717.8 L631.2,719.9 L635.3,720.5 L639.4,719.0 L643.5,722.5 L647.6,730.8 L651.7,737.5 L655.8,742.8 L659.9,751.3 L664.0,760.1 L668.1,768.3 L672.2,776.9 L676.3,787.1 L680.4,798.3 L684.5,813.3 L688.6,824.8 L692.7,835.0 L696.8,847.7 L700.9,862.0 L705.0,876.8 L709.1,895.8 L713.2,913.9 L717.3,929.6 L721.4,946.4 L725.5,961.9 L729.6,976.7 L733.7,992.9 L737.8,1008.6 L741.9,1022.2 L746.0,1036.0 L750.1,1050.2 L754.2,1061.9 L758.3,1072.6 L762.4,1084.1 L766.5,1094.2 L770.6,1104.3 L774.7,1113.3 L778.8,1121.2 L782.9,1128.7 L787.0,1135.7 L791.1,1144.4 L795.2,1150.7 L799.3,1155.6 L803.4,1160.0 L807.5,1163.8 L811.6,1164.9 L815.7,1166.0 L819.8,1165.7 L823.9,1163.3 L828.0,1161.0 L832.1,1158.0 L836.2,1155.0 L840.3,1150.9 L844.4,1147.7 L848.5,1144.7 L852.6,1141.3 L856.7,1137.9 L860.8,1133.7 L864.9,1129.8 L869.0,1124.7 L873.1,1120.2 L877.2,1115.8 L881.3,1110.9 L885.4,1103.9 L889.5,1098.5 L893.6,1091.1 L897.7,1086.4 L901.7,1079.3 L905.8,1071.3 L909.9,1064.8 L914.0,1056.6 L918.1,1047.8 L922.2,1038.9 L926.3,1028.8 L930.4,1020.9 L934.5,1012.6 L938.6,1003.5 L942.7,996.6 L946.8,987.2 L950.9,977.6 L955.0,965.2 L959.1,955.6 L963.2,945.4 L967.3,935.8 L971.4,926.7 L975.5,917.5 L979.6,907.1 L983.7,897.2 L987.8,886.9 L991.9,877.5 L996.0,867.8 L1000.1,858.0 L1004.2,848.4 L1008.3,839.6 L1012.4,830.1 L1016.5,821.3 L1020.6,811.6 L1024.7,802.5 L1028.8,792.5 L1032.9,781.7 L1037.0,772.1 L1041.1,761.3 L1045.2,753.0 L1049.3,744.8 L1053.4,735.5 L1057.5,726.6 L1061.6,713.7 L1065.7,702.3 L1069.8,691.4 L1073.9,680.3 L1078.0,669.7 L1082.1,659.4 L1086.2,648.1 L1090.3,636.4 L1094.4,624.6 L1098.5,613.0 L1102.6,601.8 L1106.7,588.7 L1110.8,576.6 L1114.9,566.2 L1119.0,553.2 L1123.1,541.2 L1127.2,530.3 L1131.3,518.5 L1135.4,508.6 L1139.5,499.0 L1143.6,490.2 L1147.7,481.3 L1151.8,472.0 L1155.9,464.3 L1160.0,458.0 L1164.1,452.8 L1168.2,447.6 L1172.3,443.3 L1176.4,439.9 L1180.5,437.6 L1184.6,435.4 L1188.7,434.2 L1192.8,434.7 L1196.9,437.0 L1201.0,442.3 L1205.1,446.9 L1209.2,455.3 L1213.3,461.1 L1217.4,467.1 L1221.5,473.1 L1225.6,482.1 L1229.7,496.8 L1233.8,512.3 L1237.9,524.7 L1242.0,538.4 L1246.1,558.9 L1250.2,577.8 L1254.3,598.5 L1258.4,616.7 L1262.5,637.4 L1266.6,657.3 L1270.7,676.2 L1274.8,696.0 L1278.9,714.5 L1283.0,735.9 L1287.1,758.0 L1291.2,780.6 L1295.3,800.8 L1299.4,821.2 L1303.5,841.4 L1307.5,862.7 L1311.6,886.4 L1315.7,911.0 L1319.8,933.5 L1323.9,954.3 L1328.0,972.0 L1332.1,989.2 L1336.2,1009.8 L1340.3,1029.2 L1344.4,1047.8 L1348.5,1067.1 L1352.6,1084.9 L1356.7,1100.1 L1360.8,1115.4 L1364.9,1130.9 L1369.0,1144.9 L1373.1,1157.1 L1377.2,1170.6 L1381.3,1180.6 L1385.4,1192.2 L1389.5,1203.0 L1393.6,1214.4 L1397.7,1225.3 L1401.8,1235.5 L1405.9,1244.5 L1410.0,1253.1 L1414.1,1262.2 L1418.2,1272.1 L1422.3,1279.7 L1426.4,1287.5 L1430.5,1295.7 L1434.6,1303.4 L1438.7,1311.1 L1442.8,1315.6 L1446.9,1320.5 L1451.0,1324.5 L1455.1,1329.8 L1459.2,1332.8 L1463.3,1335.8 L1467.4,1338.0 L1471.5,1340.6 L1475.6,1342.0 L1479.7,1343.6 L1483.8,1345.0 L1487.9,1345.2 L1492.0,1347.6 L1496.1,1348.5 L1500.2,1348.6 L1504.3,1350.3 L1508.4,1350.1 L1512.5,1351.4 L1516.6,1352.0 L1520.7,1352.5 L1524.8,1353.1 L1528.9,1353.6 L1533.0,1354.0 L1537.1,1354.5 L1541.2,1354.9 L1545.3,1355.3 L1549.4,1355.7 L1553.5,1356.1 L1557.6,1356.5 L1561.7,1356.8 L1565.8,1357.1 L1569.9,1357.4 L1574.0,1357.7 L1578.1,1358.0 L1582.2,1358.3 L1586.3,1358.5 L1590.4,1358.8 L1594.5,1359.0 L1598.6,1359.2 L1602.7,1359.4 L1606.8,1359.6 L1610.9,1359.8 L1615.0,1360.0 L1619.1,1360.1 L1623.2,1360.3 L1627.3,1360.5 L1631.4,1360.6 L1635.5,1360.7 L1639.6,1360.9 L1643.7,1361.0 L1647.8,1361.1 L1651.9,1361.2 L1656.0,1361.3 L1660.1,1361.4 L1664.2,1361.5 L1668.3,1361.6 L1672.4,1361.7 L1676.5,1361.8 L1680.6,1361.9 L1684.7,1362.0 L1688.8,1362.0 L1692.9,1362.1 L1697.0,1362.2 L1701.1,1362.2 L1705.2,1362.3 L1709.3,1362.3 L1713.4,1362.4 L1717.5,1362.4 L1721.5,1362.5 L1725.6,1362.5 L1729.7,1362.6 L1733.8,1362.6 L1737.9,1362.7 L1742.0,1362.7 L1746.1,1362.7 L1750.2,1362.8 L1754.3,1362.8 L1758.4,1362.8 L1762.5,1362.9 L1766.6,1362.9 L1770.7,1362.9 L1774.8,1362.9 L1778.9,1363.0 L1783.0,1363.0 L1787.1,1363.0 L1791.2,1363.0 L1795.3,1363.0 L1799.4,1363.1 L1803.5,1363.1 L1807.6,1363.1 L1811.7,1363.1 L1815.8,1363.1 L1819.9,1363.1 L1824.0,1363.2 L1828.1,1363.2 L1832.2,1363.2 L1836.3,1363.2 L1840.4,1363.2 L1844.5,1363.2 L1848.6,1363.2 L1852.7,1363.2 L1856.8,1363.2 L1860.9,1363.3 L1865.0,1363.3 L1869.1,1363.3 L1873.2,1363.3 L1877.3,1363.3 L1881.4,1363.3 L1885.5,1363.3 L1889.6,1363.3 L1893.7,1363.3 L1897.8,1363.3 L1901.9,1363.3 L1906.0,1363.3 L1910.1,1363.3 L1914.2,1363.3 L1918.3,1363.3 L1922.4,1363.3"/></defs>
<use href="#d9" stroke="#fe4524" stroke-width="9.4" stroke-linecap="round" stroke-dasharray="21.0 34.8" stroke-dashoffset="1.3"/>
<use href="#d9" stroke="#fe4524" stroke-width="12.6" stroke-linecap="butt" stroke-dasharray="25.0 30.8" stroke-dashoffset="3.3"/>
<defs><path id="d10" d="M282.8,1131.3 L286.9,1124.1 L291.0,1120.0 L295.1,1114.9 L299.2,1109.2 L303.3,1102.9 L307.4,1099.4 L311.5,1094.1 L315.6,1090.8 L319.7,1084.5 L323.8,1081.2 L327.9,1076.5 L332.0,1071.8 L336.1,1068.9 L340.2,1064.7 L344.3,1061.6 L348.4,1058.0 L352.5,1054.2 L356.6,1050.2 L360.7,1047.1 L364.8,1043.2 L368.9,1039.7 L373.0,1036.0 L377.1,1030.7 L381.2,1026.6 L385.3,1022.0 L389.4,1017.2 L393.5,1012.9 L397.6,1009.3 L401.7,1004.0 L405.8,999.1 L409.9,994.5 L414.0,990.7 L418.1,984.9 L422.2,979.6 L426.3,974.3 L430.4,970.0 L434.5,965.7 L438.6,959.3 L442.7,955.2 L446.8,950.5 L450.9,945.1 L455.0,940.1 L459.1,935.7 L463.2,931.0 L467.3,926.0 L471.4,920.2 L475.5,915.5 L479.6,909.8 L483.7,905.6 L487.8,899.0 L491.8,893.0 L495.9,886.9 L500.0,881.5 L504.1,874.6 L508.2,867.5 L512.3,862.4 L516.4,857.3 L520.5,852.0 L524.6,847.0 L528.7,840.6 L532.8,835.6 L536.9,830.3 L541.0,824.7 L545.1,820.3 L549.2,816.7 L553.3,814.5 L557.4,810.8 L561.5,807.1 L565.6,805.8 L569.7,802.0 L573.8,800.5 L577.9,798.1 L582.0,797.4 L586.1,796.4 L590.2,795.1 L594.3,792.8 L598.4,793.3 L602.5,793.6 L606.6,792.4 L610.7,793.9 L614.8,793.4 L618.9,793.4 L623.0,794.0 L627.1,795.5 L631.2,797.2 L635.3,798.5 L639.4,796.5 L643.5,799.5 L647.6,806.3 L651.7,811.2 L655.8,815.8 L659.9,823.2 L664.0,829.7 L668.1,836.3 L672.2,845.2 L676.3,854.2 L680.4,864.3 L684.5,875.1 L688.6,886.8 L692.7,894.4 L696.8,904.9 L700.9,917.6 L705.0,930.7 L709.1,946.4 L713.2,961.3 L717.3,974.0 L721.4,988.4 L725.5,1000.9 L729.6,1014.1 L733.7,1025.9 L737.8,1039.3 L741.9,1050.9 L746.0,1062.9 L750.1,1074.6 L754.2,1085.0 L758.3,1095.0 L762.4,1102.9 L766.5,1113.0 L770.6,1119.8 L774.7,1127.6 L778.8,1132.7 L782.9,1137.8 L787.0,1144.2 L791.1,1149.4 L795.2,1154.3 L799.3,1157.9 L803.4,1162.0 L807.5,1162.7 L811.6,1162.9 L815.7,1162.5 L819.8,1160.8 L823.9,1156.9 L828.0,1153.4 L832.1,1149.2 L836.2,1145.2 L840.3,1140.3 L844.4,1136.6 L848.5,1132.6 L852.6,1127.5 L856.7,1123.1 L860.8,1118.7 L864.9,1113.8 L869.0,1107.6 L873.1,1102.3 L877.2,1096.8 L881.3,1088.1 L885.4,1083.3 L889.5,1075.1 L893.6,1068.5 L897.7,1060.2 L901.7,1052.9 L905.8,1044.5 L909.9,1036.7 L914.0,1028.1 L918.1,1016.8 L922.2,1006.8 L926.3,996.1 L930.4,986.1 L934.5,977.3 L938.6,967.8 L942.7,957.8 L946.8,947.6 L950.9,936.5 L955.0,923.8 L959.1,911.4 L963.2,900.8 L967.3,888.9 L971.4,879.1 L975.5,869.6 L979.6,857.2 L983.7,846.8 L987.8,834.8 L991.9,823.4 L996.0,813.1 L1000.1,802.1 L1004.2,790.9 L1008.3,782.0 L1012.4,772.1 L1016.5,761.2 L1020.6,751.2 L1024.7,739.4 L1028.8,728.7 L1032.9,717.1 L1037.0,705.7 L1041.1,695.8 L1045.2,685.5 L1049.3,675.4 L1053.4,665.3 L1057.5,654.7 L1061.6,641.8 L1065.7,627.8 L1069.8,615.3 L1073.9,603.0 L1078.0,591.9 L1082.1,579.2 L1086.2,568.9 L1090.3,554.7 L1094.4,541.4 L1098.5,529.7 L1102.6,515.5 L1106.7,501.1 L1110.8,488.8 L1114.9,475.0 L1119.0,461.0 L1123.1,446.9 L1127.2,434.8 L1131.3,423.5 L1135.4,412.4 L1139.5,401.5 L1143.6,389.8 L1147.7,380.7 L1151.8,370.0 L1155.9,360.8 L1160.0,354.7 L1164.1,347.7 L1168.2,342.1 L1172.3,337.4 L1176.4,335.3 L1180.5,331.4 L1184.6,329.2 L1188.7,327.8 L1192.8,329.5 L1196.9,331.7 L1201.0,337.3 L1205.1,342.7 L1209.2,351.6 L1213.3,358.2 L1217.4,365.7 L1221.5,371.4 L1225.6,382.6 L1229.7,398.9 L1233.8,414.6 L1237.9,430.5 L1242.0,446.1 L1246.1,466.3 L1250.2,491.2 L1254.3,513.1 L1258.4,534.0 L1262.5,555.8 L1266.6,578.9 L1270.7,600.4 L1274.8,622.9 L1278.9,645.1 L1283.0,668.5 L1287.1,693.4 L1291.2,718.2 L1295.3,740.7 L1299.4,764.1 L1303.5,787.3 L1307.5,811.6 L1311.6,836.5 L1315.7,864.0 L1319.8,889.7 L1323.9,911.6 L1328.0,932.1 L1332.1,951.4 L1336.2,972.4 L1340.3,995.3 L1344.4,1016.8 L1348.5,1037.3 L1352.6,1055.9 L1356.7,1073.4 L1360.8,1090.9 L1364.9,1108.3 L1369.0,1123.7 L1373.1,1139.5 L1377.2,1151.8 L1381.3,1164.8 L1385.4,1176.2 L1389.5,1187.9 L1393.6,1200.0 L1397.7,1213.1 L1401.8,1224.0 L1405.9,1235.2 L1410.0,1244.5 L1414.1,1253.3 L1418.2,1263.2 L1422.3,1272.9 L1426.4,1282.3 L1430.5,1290.4 L1434.6,1299.6 L1438.7,1306.9 L1442.8,1311.5 L1446.9,1319.0 L1451.0,1323.2 L1455.1,1328.1 L1459.2,1330.8 L1463.3,1334.9 L1467.4,1337.5 L1471.5,1339.4 L1475.6,1341.0 L1479.7,1343.8 L1483.8,1345.6 L1487.9,1346.1 L1492.0,1347.4 L1496.1,1348.0 L1500.2,1349.4 L1504.3,1350.4 L1508.4,1350.6 L1512.5,1351.4 L1516.6,1352.0 L1520.7,1352.5 L1524.8,1353.1 L1528.9,1353.6 L1533.0,1354.0 L1537.1,1354.5 L1541.2,1354.9 L1545.3,1355.3 L1549.4,1355.7 L1553.5,1356.1 L1557.6,1356.5 L1561.7,1356.8 L1565.8,1357.1 L1569.9,1357.4 L1574.0,1357.7 L1578.1,1358.0 L1582.2,1358.3 L1586.3,1358.5 L1590.4,1358.8 L1594.5,1359.0 L1598.6,1359.2 L1602.7,1359.4 L1606.8,1359.6 L1610.9,1359.8 L1615.0,1360.0 L1619.1,1360.1 L1623.2,1360.3 L1627.3,1360.5 L1631.4,1360.6 L1635.5,1360.7 L1639.6,1360.9 L1643.7,1361.0 L1647.8,1361.1 L1651.9,1361.2 L1656.0,1361.3 L1660.1,1361.4 L1664.2,1361.5 L1668.3,1361.6 L1672.4,1361.7 L1676.5,1361.8 L1680.6,1361.9 L1684.7,1362.0 L1688.8,1362.0 L1692.9,1362.1 L1697.0,1362.2 L1701.1,1362.2 L1705.2,1362.3 L1709.3,1362.3 L1713.4,1362.4 L1717.5,1362.4 L1721.5,1362.5 L1725.6,1362.5 L1729.7,1362.6 L1733.8,1362.6 L1737.9,1362.7 L1742.0,1362.7 L1746.1,1362.7 L1750.2,1362.8 L1754.3,1362.8 L1758.4,1362.8 L1762.5,1362.9 L1766.6,1362.9 L1770.7,1362.9 L1774.8,1362.9 L1778.9,1363.0 L1783.0,1363.0 L1787.1,1363.0 L1791.2,1363.0 L1795.3,1363.0 L1799.4,1363.1 L1803.5,1363.1 L1807.6,1363.1 L1811.7,1363.1 L1815.8,1363.1 L1819.9,1363.1 L1824.0,1363.2 L1828.1,1363.2 L1832.2,1363.2 L1836.3,1363.2 L1840.4,1363.2 L1844.5,1363.2 L1848.6,1363.2 L1852.7,1363.2 L1856.8,1363.2 L1860.9,1363.3 L1865.0,1363.3 L1869.1,1363.3 L1873.2,1363.3 L1877.3,1363.3 L1881.4,1363.3 L1885.5,1363.3 L1889.6,1363.3 L1893.7,1363.3 L1897.8,1363.3 L1901.9,1363.3 L1906.0,1363.3 L1910.1,1363.3 L1914.2,1363.3 L1918.3,1363.3 L1922.4,1363.3"/></defs>
<use href="#d10" stroke="#55b945" stroke-width="9.4" stroke-linecap="round" stroke-dasharray="21.0 34.8" stroke-dashoffset="1.3"/>
<use href="#d10" stroke="#55b945" stroke-width="12.6" stroke-linecap="butt" stroke-dasharray="25.0 30.8" stroke-dashoffset="3.3"/>
<defs><path id="d11" d="M282.8,1133.4 L286.9,1127.5 L291.0,1123.1 L295.1,1118.3 L299.2,1111.6 L303.3,1106.2 L307.4,1103.8 L311.5,1098.3 L315.6,1093.3 L319.7,1089.3 L323.8,1085.5 L327.9,1082.1 L332.0,1079.5 L336.1,1075.2 L340.2,1072.3 L344.3,1069.7 L348.4,1068.5 L352.5,1063.6 L356.6,1062.1 L360.7,1059.1 L364.8,1055.5 L368.9,1053.0 L373.0,1050.9 L377.1,1047.2 L381.2,1044.5 L385.3,1042.2 L389.4,1038.8 L393.5,1036.9 L397.6,1033.7 L401.7,1029.6 L405.8,1025.6 L409.9,1023.7 L414.0,1019.1 L418.1,1016.4 L422.2,1012.2 L426.3,1010.2 L430.4,1005.0 L434.5,1003.1 L438.6,1000.3 L442.7,996.7 L446.8,994.7 L450.9,990.3 L455.0,987.4 L459.1,983.7 L463.2,980.9 L467.3,979.0 L471.4,975.5 L475.5,970.9 L479.6,967.7 L483.7,962.6 L487.8,959.8 L491.8,954.7 L495.9,950.7 L500.0,945.2 L504.1,941.5 L508.2,937.1 L512.3,933.4 L516.4,928.5 L520.5,924.2 L524.6,920.6 L528.7,915.8 L532.8,912.5 L536.9,908.1 L541.0,903.9 L545.1,900.9 L549.2,896.9 L553.3,894.4 L557.4,892.6 L561.5,890.4 L565.6,887.8 L569.7,886.1 L573.8,884.1 L577.9,882.9 L582.0,880.4 L586.1,879.5 L590.2,878.4 L594.3,877.3 L598.4,878.5 L602.5,876.9 L606.6,876.9 L610.7,876.4 L614.8,876.5 L618.9,876.6 L623.0,876.5 L627.1,879.4 L631.2,880.0 L635.3,878.3 L639.4,877.5 L643.5,881.1 L647.6,885.7 L651.7,890.3 L655.8,895.4 L659.9,900.6 L664.0,905.9 L668.1,911.8 L672.2,917.0 L676.3,924.6 L680.4,932.1 L684.5,942.4 L688.6,951.1 L692.7,958.7 L696.8,965.8 L700.9,975.2 L705.0,987.8 L709.1,999.1 L713.2,1012.1 L717.3,1020.9 L721.4,1033.0 L725.5,1042.3 L729.6,1052.4 L733.7,1063.9 L737.8,1073.6 L741.9,1082.4 L746.0,1091.1 L750.1,1100.7 L754.2,1108.9 L758.3,1115.5 L762.4,1122.0 L766.5,1129.9 L770.6,1135.7 L774.7,1139.6 L778.8,1144.4 L782.9,1148.9 L787.0,1152.0 L791.1,1155.3 L795.2,1158.0 L799.3,1160.5 L803.4,1162.0 L807.5,1163.0 L811.6,1160.4 L815.7,1158.2 L819.8,1155.5 L823.9,1151.7 L828.0,1146.7 L832.1,1140.7 L836.2,1135.5 L840.3,1130.2 L844.4,1123.6 L848.5,1119.0 L852.6,1113.6 L856.7,1107.7 L860.8,1102.5 L864.9,1096.5 L869.0,1090.8 L873.1,1082.8 L877.2,1077.1 L881.3,1068.0 L885.4,1061.5 L889.5,1053.1 L893.6,1044.6 L897.7,1035.5 L901.7,1027.3 L905.8,1018.7 L909.9,1009.7 L914.0,998.3 L918.1,987.6 L922.2,975.3 L926.3,963.5 L930.4,952.5 L934.5,941.6 L938.6,931.9 L942.7,921.1 L946.8,910.2 L950.9,897.9 L955.0,882.7 L959.1,869.4 L963.2,857.0 L967.3,846.7 L971.4,833.7 L975.5,821.3 L979.6,809.5 L983.7,796.5 L987.8,783.7 L991.9,771.6 L996.0,760.1 L1000.1,747.5 L1004.2,735.8 L1008.3,724.6 L1012.4,714.3 L1016.5,702.9 L1020.6,690.6 L1024.7,679.6 L1028.8,668.0 L1032.9,654.0 L1037.0,640.9 L1041.1,628.4 L1045.2,617.6 L1049.3,607.1 L1053.4,596.9 L1057.5,585.4 L1061.6,570.9 L1065.7,554.7 L1069.8,541.6 L1073.9,526.9 L1078.0,515.6 L1082.1,502.9 L1086.2,488.9 L1090.3,475.3 L1094.4,460.4 L1098.5,446.2 L1102.6,430.8 L1106.7,415.5 L1110.8,401.9 L1114.9,385.8 L1119.0,370.7 L1123.1,355.7 L1127.2,343.6 L1131.3,328.5 L1135.4,317.0 L1139.5,304.4 L1143.6,292.7 L1147.7,281.4 L1151.8,270.5 L1155.9,261.0 L1160.0,252.6 L1164.1,245.1 L1168.2,239.6 L1172.3,234.4 L1176.4,231.1 L1180.5,227.2 L1184.6,226.0 L1188.7,223.8 L1192.8,224.7 L1196.9,228.4 L1201.0,233.7 L1205.1,239.9 L1209.2,249.8 L1213.3,258.6 L1217.4,266.3 L1221.5,273.8 L1225.6,284.7 L1229.7,302.1 L1233.8,320.9 L1237.9,337.1 L1242.0,355.8 L1246.1,378.5 L1250.2,403.6 L1254.3,428.5 L1258.4,453.3 L1262.5,477.0 L1266.6,502.5 L1270.7,527.3 L1274.8,551.3 L1278.9,576.1 L1283.0,601.5 L1287.1,629.8 L1291.2,657.3 L1295.3,682.2 L1299.4,707.9 L1303.5,732.8 L1307.5,759.7 L1311.6,788.7 L1315.7,818.4 L1319.8,846.1 L1323.9,871.7 L1328.0,893.1 L1332.1,915.4 L1336.2,937.2 L1340.3,960.8 L1344.4,983.9 L1348.5,1007.4 L1352.6,1029.5 L1356.7,1048.8 L1360.8,1067.6 L1364.9,1085.5 L1369.0,1102.3 L1373.1,1120.8 L1377.2,1132.7 L1381.3,1146.8 L1385.4,1160.8 L1389.5,1174.0 L1393.6,1188.0 L1397.7,1200.9 L1401.8,1212.9 L1405.9,1223.7 L1410.0,1235.5 L1414.1,1245.5 L1418.2,1256.9 L1422.3,1267.0 L1426.4,1276.5 L1430.5,1286.8 L1434.6,1295.3 L1438.7,1303.2 L1442.8,1310.2 L1446.9,1316.9 L1451.0,1321.3 L1455.1,1326.2 L1459.2,1329.2 L1463.3,1334.4 L1467.4,1336.0 L1471.5,1339.0 L1475.6,1341.3 L1479.7,1342.0 L1483.8,1344.6 L1487.9,1345.5 L1492.0,1347.0 L1496.1,1348.7 L1500.2,1349.3 L1504.3,1350.2 L1508.4,1350.9 L1512.5,1351.4 L1516.6,1352.0 L1520.7,1352.5 L1524.8,1353.1 L1528.9,1353.6 L1533.0,1354.0 L1537.1,1354.5 L1541.2,1354.9 L1545.3,1355.3 L1549.4,1355.7 L1553.5,1356.1 L1557.6,1356.5 L1561.7,1356.8 L1565.8,1357.1 L1569.9,1357.4 L1574.0,1357.7 L1578.1,1358.0 L1582.2,1358.3 L1586.3,1358.5 L1590.4,1358.8 L1594.5,1359.0 L1598.6,1359.2 L1602.7,1359.4 L1606.8,1359.6 L1610.9,1359.8 L1615.0,1360.0 L1619.1,1360.1 L1623.2,1360.3 L1627.3,1360.5 L1631.4,1360.6 L1635.5,1360.7 L1639.6,1360.9 L1643.7,1361.0 L1647.8,1361.1 L1651.9,1361.2 L1656.0,1361.3 L1660.1,1361.4 L1664.2,1361.5 L1668.3,1361.6 L1672.4,1361.7 L1676.5,1361.8 L1680.6,1361.9 L1684.7,1362.0 L1688.8,1362.0 L1692.9,1362.1 L1697.0,1362.2 L1701.1,1362.2 L1705.2,1362.3 L1709.3,1362.3 L1713.4,1362.4 L1717.5,1362.4 L1721.5,1362.5 L1725.6,1362.5 L1729.7,1362.6 L1733.8,1362.6 L1737.9,1362.7 L1742.0,1362.7 L1746.1,1362.7 L1750.2,1362.8 L1754.3,1362.8 L1758.4,1362.8 L1762.5,1362.9 L1766.6,1362.9 L1770.7,1362.9 L1774.8,1362.9 L1778.9,1363.0 L1783.0,1363.0 L1787.1,1363.0 L1791.2,1363.0 L1795.3,1363.0 L1799.4,1363.1 L1803.5,1363.1 L1807.6,1363.1 L1811.7,1363.1 L1815.8,1363.1 L1819.9,1363.1 L1824.0,1363.2 L1828.1,1363.2 L1832.2,1363.2 L1836.3,1363.2 L1840.4,1363.2 L1844.5,1363.2 L1848.6,1363.2 L1852.7,1363.2 L1856.8,1363.2 L1860.9,1363.3 L1865.0,1363.3 L1869.1,1363.3 L1873.2,1363.3 L1877.3,1363.3 L1881.4,1363.3 L1885.5,1363.3 L1889.6,1363.3 L1893.7,1363.3 L1897.8,1363.3 L1901.9,1363.3 L1906.0,1363.3 L1910.1,1363.3 L1914.2,1363.3 L1918.3,1363.3 L1922.4,1363.3"/></defs>
<use href="#d11" stroke="#8cd4c8" stroke-width="9.4" stroke-linecap="round" stroke-dasharray="21.0 34.8" stroke-dashoffset="1.3"/>
<use href="#d11" stroke="#8cd4c8" stroke-width="12.6" stroke-linecap="butt" stroke-dasharray="25.0 30.8" stroke-dashoffset="3.3"/>
<defs><path id="d12" d="M282.8,1135.8 L286.9,1130.2 L291.0,1124.6 L295.1,1119.5 L299.2,1114.1 L303.3,1111.3 L307.4,1105.8 L311.5,1101.7 L315.6,1097.2 L319.7,1094.6 L323.8,1091.3 L327.9,1088.2 L332.0,1086.1 L336.1,1083.7 L340.2,1081.5 L344.3,1079.4 L348.4,1077.7 L352.5,1075.9 L356.6,1074.5 L360.7,1072.9 L364.8,1071.6 L368.9,1068.8 L373.0,1067.5 L377.1,1066.1 L381.2,1065.2 L385.3,1062.7 L389.4,1061.7 L393.5,1060.1 L397.6,1058.5 L401.7,1057.1 L405.8,1054.9 L409.9,1054.4 L414.0,1052.7 L418.1,1050.7 L422.2,1049.4 L426.3,1047.4 L430.4,1045.6 L434.5,1043.8 L438.6,1042.5 L442.7,1041.7 L446.8,1040.2 L450.9,1038.9 L455.0,1036.6 L459.1,1035.9 L463.2,1034.8 L467.3,1033.4 L471.4,1030.8 L475.5,1030.0 L479.6,1029.3 L483.7,1025.5 L487.8,1023.6 L491.8,1021.1 L495.9,1018.4 L500.0,1016.0 L504.1,1013.3 L508.2,1010.8 L512.3,1008.5 L516.4,1006.6 L520.5,1003.8 L524.6,999.7 L528.7,996.5 L532.8,994.0 L536.9,991.7 L541.0,988.3 L545.1,986.1 L549.2,983.8 L553.3,981.9 L557.4,980.3 L561.5,978.4 L565.6,976.0 L569.7,973.6 L573.8,972.0 L577.9,971.7 L582.0,970.2 L586.1,969.4 L590.2,968.3 L594.3,967.5 L598.4,966.6 L602.5,967.4 L606.6,965.5 L610.7,966.4 L614.8,966.6 L618.9,964.6 L623.0,966.5 L627.1,966.8 L631.2,967.8 L635.3,966.0 L639.4,967.3 L643.5,967.3 L647.6,973.0 L651.7,974.8 L655.8,977.4 L659.9,982.1 L664.0,987.3 L668.1,990.4 L672.2,994.6 L676.3,1000.7 L680.4,1006.8 L684.5,1012.5 L688.6,1020.4 L692.7,1025.9 L696.8,1032.2 L700.9,1039.3 L705.0,1046.8 L709.1,1055.9 L713.2,1064.8 L717.3,1072.8 L721.4,1079.9 L725.5,1087.2 L729.6,1094.4 L733.7,1101.8 L737.8,1109.9 L741.9,1115.7 L746.0,1122.9 L750.1,1127.8 L754.2,1134.2 L758.3,1139.2 L762.4,1144.2 L766.5,1147.8 L770.6,1152.4 L774.7,1153.7 L778.8,1156.8 L782.9,1160.0 L787.0,1161.0 L791.1,1161.9 L795.2,1163.0 L799.3,1163.1 L803.4,1162.7 L807.5,1162.2 L811.6,1159.5 L815.7,1154.9 L819.8,1151.7 L823.9,1146.3 L828.0,1139.9 L832.1,1134.6 L836.2,1127.6 L840.3,1119.3 L844.4,1113.5 L848.5,1107.1 L852.6,1100.0 L856.7,1094.4 L860.8,1087.8 L864.9,1080.8 L869.0,1074.8 L873.1,1065.2 L877.2,1057.9 L881.3,1049.9 L885.4,1040.1 L889.5,1032.2 L893.6,1022.9 L897.7,1013.8 L901.7,1003.7 L905.8,994.1 L909.9,983.1 L914.0,972.5 L918.1,959.5 L922.2,946.1 L926.3,932.9 L930.4,920.5 L934.5,909.4 L938.6,899.1 L942.7,888.4 L946.8,874.5 L950.9,861.1 L955.0,844.8 L959.1,830.0 L963.2,816.2 L967.3,803.2 L971.4,790.1 L975.5,778.0 L979.6,763.9 L983.7,749.8 L987.8,736.2 L991.9,722.5 L996.0,710.1 L1000.1,697.0 L1004.2,683.2 L1008.3,671.3 L1012.4,659.2 L1016.5,646.8 L1020.6,635.7 L1024.7,622.7 L1028.8,608.7 L1032.9,594.7 L1037.0,579.7 L1041.1,567.2 L1045.2,555.0 L1049.3,544.5 L1053.4,532.3 L1057.5,519.3 L1061.6,503.8 L1065.7,487.5 L1069.8,471.7 L1073.9,456.9 L1078.0,442.4 L1082.1,429.9 L1086.2,415.8 L1090.3,399.4 L1094.4,383.5 L1098.5,368.2 L1102.6,351.8 L1106.7,337.3 L1110.8,319.6 L1114.9,303.7 L1119.0,285.8 L1123.1,270.8 L1127.2,254.9 L1131.3,241.6 L1135.4,227.8 L1139.5,214.8 L1143.6,202.3 L1147.7,189.3 L1151.8,176.5 L1155.9,167.7 L1160.0,158.2 L1164.1,149.9 L1168.2,143.8 L1172.3,138.6 L1176.4,134.7 L1180.5,131.0 L1184.6,129.5 L1188.7,126.1 L1192.8,127.7 L1196.9,132.4 L1201.0,138.2 L1205.1,145.2 L1209.2,155.1 L1213.3,166.1 L1217.4,174.0 L1221.5,182.3 L1225.6,192.7 L1229.7,213.8 L1233.8,233.5 L1237.9,252.2 L1242.0,271.0 L1246.1,296.1 L1250.2,325.3 L1254.3,350.5 L1258.4,376.7 L1262.5,404.4 L1266.6,430.2 L1270.7,458.6 L1274.8,485.0 L1278.9,512.1 L1283.0,538.2 L1287.1,569.7 L1291.2,599.5 L1295.3,626.7 L1299.4,655.0 L1303.5,682.8 L1307.5,711.8 L1311.6,743.4 L1315.7,775.2 L1319.8,806.4 L1323.9,833.7 L1328.0,857.5 L1332.1,878.8 L1336.2,901.9 L1340.3,929.4 L1344.4,955.0 L1348.5,980.7 L1352.6,1003.7 L1356.7,1024.7 L1360.8,1045.1 L1364.9,1065.2 L1369.0,1084.0 L1373.1,1101.4 L1377.2,1116.7 L1381.3,1132.8 L1385.4,1145.5 L1389.5,1159.7 L1393.6,1175.0 L1397.7,1190.1 L1401.8,1203.4 L1405.9,1214.7 L1410.0,1225.6 L1414.1,1238.0 L1418.2,1250.8 L1422.3,1262.6 L1426.4,1271.6 L1430.5,1280.7 L1434.6,1292.5 L1438.7,1300.6 L1442.8,1307.6 L1446.9,1313.9 L1451.0,1319.3 L1455.1,1325.8 L1459.2,1329.3 L1463.3,1333.4 L1467.4,1335.6 L1471.5,1338.2 L1475.6,1340.2 L1479.7,1343.5 L1483.8,1345.0 L1487.9,1346.2 L1492.0,1347.3 L1496.1,1348.5 L1500.2,1349.8 L1504.3,1350.3 L1508.4,1351.6 L1512.5,1351.4 L1516.6,1352.0 L1520.7,1352.5 L1524.8,1353.1 L1528.9,1353.6 L1533.0,1354.0 L1537.1,1354.5 L1541.2,1354.9 L1545.3,1355.3 L1549.4,1355.7 L1553.5,1356.1 L1557.6,1356.5 L1561.7,1356.8 L1565.8,1357.1 L1569.9,1357.4 L1574.0,1357.7 L1578.1,1358.0 L1582.2,1358.3 L1586.3,1358.5 L1590.4,1358.8 L1594.5,1359.0 L1598.6,1359.2 L1602.7,1359.4 L1606.8,1359.6 L1610.9,1359.8 L1615.0,1360.0 L1619.1,1360.1 L1623.2,1360.3 L1627.3,1360.5 L1631.4,1360.6 L1635.5,1360.7 L1639.6,1360.9 L1643.7,1361.0 L1647.8,1361.1 L1651.9,1361.2 L1656.0,1361.3 L1660.1,1361.4 L1664.2,1361.5 L1668.3,1361.6 L1672.4,1361.7 L1676.5,1361.8 L1680.6,1361.9 L1684.7,1362.0 L1688.8,1362.0 L1692.9,1362.1 L1697.0,1362.2 L1701.1,1362.2 L1705.2,1362.3 L1709.3,1362.3 L1713.4,1362.4 L1717.5,1362.4 L1721.5,1362.5 L1725.6,1362.5 L1729.7,1362.6 L1733.8,1362.6 L1737.9,1362.7 L1742.0,1362.7 L1746.1,1362.7 L1750.2,1362.8 L1754.3,1362.8 L1758.4,1362.8 L1762.5,1362.9 L1766.6,1362.9 L1770.7,1362.9 L1774.8,1362.9 L1778.9,1363.0 L1783.0,1363.0 L1787.1,1363.0 L1791.2,1363.0 L1795.3,1363.0 L1799.4,1363.1 L1803.5,1363.1 L1807.6,1363.1 L1811.7,1363.1 L1815.8,1363.1 L1819.9,1363.1 L1824.0,1363.2 L1828.1,1363.2 L1832.2,1363.2 L1836.3,1363.2 L1840.4,1363.2 L1844.5,1363.2 L1848.6,1363.2 L1852.7,1363.2 L1856.8,1363.2 L1860.9,1363.3 L1865.0,1363.3 L1869.1,1363.3 L1873.2,1363.3 L1877.3,1363.3 L1881.4,1363.3 L1885.5,1363.3 L1889.6,1363.3 L1893.7,1363.3 L1897.8,1363.3 L1901.9,1363.3 L1906.0,1363.3 L1910.1,1363.3 L1914.2,1363.3 L1918.3,1363.3 L1922.4,1363.3"/></defs>
<use href="#d12" stroke="#ad69a5" stroke-width="9.4" stroke-linecap="round" stroke-dasharray="20.0 34.2 21.6 34.2 21.6 34.2 21.6 34.2 21.6 34.2 21.6 34.2 21.6 34.2 21.6 34.2 21.6 34.2 21.6 34.2 21.6 34.2 21.6 34.2 21.6 33.3 21.6 36.8 21.6 34.5 21.6 33.7 21.6 34.7 21.6 29.5 21.6 37.9 21.6 35.0 21.6 35.4 21.6 34.1 21.6 32.9 21.6 35.2 21.6 34.4 21.6 35.0 21.6 33.5 21.6 34.7 21.6 34.8 21.6 33.4 21.6 34.9 21.6 30.6 21.6 28.5 21.6 34.8 21.6 34.5 21.6 34.7 21.6 39.5 21.6 30.7 21.6 30.4 21.6 37.3 21.6 35.0 21.6 32.8 21.6 37.3 21.6 32.7 21.6 35.1 21.6 27.5 21.6 26.5 21.6 28.9 21.6 33.0 21.6 37.7 21.6 33.4 21.6 35.8 21.6 32.3 21.6 32.1 21.6 36.9 21.6 9000.0"/>
<use href="#d12" stroke="#ad69a5" stroke-width="12.6" stroke-linecap="butt" stroke-dasharray="21.7 30.8 25.0 30.8 25.0 30.8 25.0 30.8 25.0 30.8 25.0 30.8 25.0 30.8 25.0 30.8 25.0 30.8 25.0 30.8 25.0 30.8 25.0 30.8 25.0 29.9 25.0 33.4 25.0 31.1 25.0 30.3 25.0 31.3 25.0 26.1 25.0 34.5 25.0 31.6 25.0 32.0 25.0 30.7 25.0 29.5 25.0 31.8 25.0 31.0 25.0 31.6 25.0 30.1 25.0 31.3 25.0 31.4 25.0 30.0 25.0 31.5 25.0 27.2 25.0 25.1 25.0 31.4 25.0 31.1 25.0 31.3 25.0 36.1 25.0 27.3 25.0 27.0 25.0 33.9 25.0 31.6 25.0 29.4 25.0 33.9 25.0 29.3 25.0 31.7 25.0 24.1 25.0 23.1 25.0 25.5 25.0 29.6 25.0 34.3 25.0 30.0 25.0 32.4 25.0 28.9 25.0 28.7 25.0 33.5 25.0 9000.0"/>
<defs><path id="d13" d="M282.8,1137.9 L286.9,1131.8 L291.0,1127.5 L295.1,1122.8 L299.2,1118.0 L303.3,1114.2 L307.4,1110.8 L311.5,1107.4 L315.6,1102.9 L319.7,1100.1 L323.8,1096.4 L327.9,1095.4 L332.0,1093.6 L336.1,1091.1 L340.2,1091.3 L344.3,1088.7 L348.4,1088.7 L352.5,1088.4 L356.6,1087.2 L360.7,1087.0 L364.8,1087.4 L368.9,1086.5 L373.0,1085.6 L377.1,1086.0 L381.2,1086.4 L385.3,1086.9 L389.4,1086.8 L393.5,1086.7 L397.6,1087.3 L401.7,1087.2 L405.8,1087.3 L409.9,1089.0 L414.0,1088.5 L418.1,1088.7 L422.2,1089.5 L426.3,1090.1 L430.4,1089.2 L434.5,1090.5 L438.6,1090.9 L442.7,1091.6 L446.8,1092.0 L450.9,1092.5 L455.0,1092.9 L459.1,1094.3 L463.2,1094.8 L467.3,1094.8 L471.4,1095.0 L475.5,1095.5 L479.6,1095.1 L483.7,1095.7 L487.8,1095.3 L491.8,1095.5 L495.9,1096.4 L500.0,1094.2 L504.1,1092.9 L508.2,1092.7 L512.3,1091.9 L516.4,1091.5 L520.5,1089.5 L524.6,1088.9 L528.7,1087.9 L532.8,1085.3 L536.9,1083.6 L541.0,1082.9 L545.1,1081.4 L549.2,1080.2 L553.3,1077.5 L557.4,1076.9 L561.5,1076.0 L565.6,1074.8 L569.7,1073.4 L573.8,1071.7 L577.9,1071.5 L582.0,1070.6 L586.1,1069.1 L590.2,1068.6 L594.3,1068.7 L598.4,1067.4 L602.5,1067.1 L606.6,1066.7 L610.7,1065.9 L614.8,1065.4 L618.9,1064.2 L623.0,1064.6 L627.1,1064.8 L631.2,1065.7 L635.3,1064.3 L639.4,1063.5 L643.5,1064.6 L647.6,1067.1 L651.7,1068.9 L655.8,1071.7 L659.9,1074.1 L664.0,1076.5 L668.1,1079.1 L672.2,1082.4 L676.3,1085.5 L680.4,1088.5 L684.5,1091.8 L688.6,1096.7 L692.7,1101.8 L696.8,1104.7 L700.9,1109.6 L705.0,1114.9 L709.1,1119.6 L713.2,1125.5 L717.3,1128.7 L721.4,1132.9 L725.5,1137.0 L729.6,1141.6 L733.7,1146.0 L737.8,1149.5 L741.9,1153.0 L746.0,1156.2 L750.1,1159.6 L754.2,1162.2 L758.3,1166.1 L762.4,1167.3 L766.5,1169.5 L770.6,1171.8 L774.7,1171.9 L778.8,1172.2 L782.9,1172.2 L787.0,1171.7 L791.1,1170.0 L795.2,1168.6 L799.3,1166.0 L803.4,1163.4 L807.5,1160.6 L811.6,1157.8 L815.7,1153.1 L819.8,1148.3 L823.9,1141.2 L828.0,1135.9 L832.1,1128.6 L836.2,1120.6 L840.3,1111.8 L844.4,1105.5 L848.5,1097.7 L852.6,1091.4 L856.7,1083.5 L860.8,1077.8 L864.9,1069.7 L869.0,1061.4 L873.1,1053.5 L877.2,1045.1 L881.3,1034.7 L885.4,1026.7 L889.5,1016.6 L893.6,1005.6 L897.7,995.2 L901.7,985.9 L905.8,976.0 L909.9,964.9 L914.0,952.8 L918.1,939.1 L922.2,924.0 L926.3,910.1 L930.4,896.9 L934.5,885.7 L938.6,873.4 L942.7,861.3 L946.8,847.9 L950.9,833.0 L955.0,817.0 L959.1,800.1 L963.2,785.2 L967.3,772.3 L971.4,758.4 L975.5,744.3 L979.6,729.8 L983.7,715.1 L987.8,701.4 L991.9,686.4 L996.0,673.8 L1000.1,660.6 L1004.2,646.0 L1008.3,632.2 L1012.4,620.2 L1016.5,606.7 L1020.6,593.7 L1024.7,580.4 L1028.8,565.8 L1032.9,550.2 L1037.0,536.0 L1041.1,522.1 L1045.2,508.9 L1049.3,496.6 L1053.4,484.9 L1057.5,470.2 L1061.6,454.4 L1065.7,437.7 L1069.8,420.6 L1073.9,405.6 L1078.0,390.3 L1082.1,376.2 L1086.2,359.9 L1090.3,346.1 L1094.4,328.6 L1098.5,311.3 L1102.6,293.7 L1106.7,277.1 L1110.8,260.1 L1114.9,242.1 L1119.0,225.1 L1123.1,207.6 L1127.2,191.3 L1131.3,176.0 L1135.4,162.7 L1139.5,148.3 L1143.6,134.0 L1147.7,120.9 L1151.8,108.7 L1155.9,97.0 L1160.0,88.2 L1164.1,79.8 L1168.2,72.5 L1172.3,68.0 L1176.4,63.0 L1180.5,59.5 L1184.6,56.5 L1188.7,54.6 L1192.8,57.0 L1196.9,61.5 L1201.0,67.6 L1205.1,74.0 L1209.2,85.5 L1213.3,96.4 L1217.4,105.0 L1221.5,114.2 L1225.6,125.4 L1229.7,147.0 L1233.8,168.3 L1237.9,187.2 L1242.0,208.1 L1246.1,233.9 L1250.2,265.8 L1254.3,292.6 L1258.4,320.3 L1262.5,349.6 L1266.6,378.6 L1270.7,405.8 L1274.8,435.6 L1278.9,463.7 L1283.0,493.3 L1287.1,525.6 L1291.2,557.4 L1295.3,585.8 L1299.4,616.4 L1303.5,645.7 L1307.5,677.7 L1311.6,710.7 L1315.7,744.3 L1319.8,777.0 L1323.9,805.5 L1328.0,830.9 L1332.1,853.7 L1336.2,876.4 L1340.3,905.4 L1344.4,931.6 L1348.5,960.8 L1352.6,985.1 L1356.7,1007.2 L1360.8,1028.9 L1364.9,1050.4 L1369.0,1069.6 L1373.1,1089.0 L1377.2,1104.4 L1381.3,1121.1 L1385.4,1134.8 L1389.5,1150.5 L1393.6,1166.3 L1397.7,1181.0 L1401.8,1195.4 L1405.9,1207.8 L1410.0,1219.4 L1414.1,1233.0 L1418.2,1244.7 L1422.3,1256.5 L1426.4,1268.0 L1430.5,1278.9 L1434.6,1290.2 L1438.7,1297.9 L1442.8,1305.6 L1446.9,1311.8 L1451.0,1318.2 L1455.1,1324.3 L1459.2,1328.8 L1463.3,1333.0 L1467.4,1335.9 L1471.5,1338.4 L1475.6,1340.0 L1479.7,1342.5 L1483.8,1344.0 L1487.9,1346.0 L1492.0,1347.1 L1496.1,1347.8 L1500.2,1349.5 L1504.3,1349.7 L1508.4,1350.3 L1512.5,1351.4 L1516.6,1352.0 L1520.7,1352.5 L1524.8,1353.1 L1528.9,1353.6 L1533.0,1354.0 L1537.1,1354.5 L1541.2,1354.9 L1545.3,1355.3 L1549.4,1355.7 L1553.5,1356.1 L1557.6,1356.5 L1561.7,1356.8 L1565.8,1357.1 L1569.9,1357.4 L1574.0,1357.7 L1578.1,1358.0 L1582.2,1358.3 L1586.3,1358.5 L1590.4,1358.8 L1594.5,1359.0 L1598.6,1359.2 L1602.7,1359.4 L1606.8,1359.6 L1610.9,1359.8 L1615.0,1360.0 L1619.1,1360.1 L1623.2,1360.3 L1627.3,1360.5 L1631.4,1360.6 L1635.5,1360.7 L1639.6,1360.9 L1643.7,1361.0 L1647.8,1361.1 L1651.9,1361.2 L1656.0,1361.3 L1660.1,1361.4 L1664.2,1361.5 L1668.3,1361.6 L1672.4,1361.7 L1676.5,1361.8 L1680.6,1361.9 L1684.7,1362.0 L1688.8,1362.0 L1692.9,1362.1 L1697.0,1362.2 L1701.1,1362.2 L1705.2,1362.3 L1709.3,1362.3 L1713.4,1362.4 L1717.5,1362.4 L1721.5,1362.5 L1725.6,1362.5 L1729.7,1362.6 L1733.8,1362.6 L1737.9,1362.7 L1742.0,1362.7 L1746.1,1362.7 L1750.2,1362.8 L1754.3,1362.8 L1758.4,1362.8 L1762.5,1362.9 L1766.6,1362.9 L1770.7,1362.9 L1774.8,1362.9 L1778.9,1363.0 L1783.0,1363.0 L1787.1,1363.0 L1791.2,1363.0 L1795.3,1363.0 L1799.4,1363.1 L1803.5,1363.1 L1807.6,1363.1 L1811.7,1363.1 L1815.8,1363.1 L1819.9,1363.1 L1824.0,1363.2 L1828.1,1363.2 L1832.2,1363.2 L1836.3,1363.2 L1840.4,1363.2 L1844.5,1363.2 L1848.6,1363.2 L1852.7,1363.2 L1856.8,1363.2 L1860.9,1363.3 L1865.0,1363.3 L1869.1,1363.3 L1873.2,1363.3 L1877.3,1363.3 L1881.4,1363.3 L1885.5,1363.3 L1889.6,1363.3 L1893.7,1363.3 L1897.8,1363.3 L1901.9,1363.3 L1906.0,1363.3 L1910.1,1363.3 L1914.2,1363.3 L1918.3,1363.3 L1922.4,1363.3"/></defs>
<use href="#d13" stroke="#ff7a22" stroke-width="9.4" stroke-linecap="round" stroke-dasharray="0.0 0.6 21.6 29.8 21.6 30.5 21.6 33.9 21.6 35.0 21.6 28.1 21.6 36.2 21.6 22.4 21.6 25.7 21.6 36.3 21.6 35.9 21.6 22.5 21.6 52.1 21.6 37.1 21.6 34.4 21.6 34.5 21.6 34.4 21.6 29.7 21.6 38.1 21.6 35.0 21.6 35.3 21.6 34.0 21.6 32.9 21.6 35.2 21.6 34.4 21.6 35.2 21.6 33.7 21.6 34.8 21.6 34.8 21.6 33.2 21.6 35.2 21.6 33.0 21.6 38.9 21.6 30.8 21.6 34.4 21.6 35.2 21.6 34.5 21.6 33.8 21.6 39.5 21.6 30.7 21.6 30.5 21.6 37.2 21.6 35.0 21.6 32.9 21.6 37.2 21.6 32.7 21.6 35.2 21.6 27.6 21.6 26.3 21.6 28.9 21.6 33.2 21.6 37.8 21.6 33.8 21.6 35.7 21.6 32.5 21.6 33.2 21.6 41.3 21.6 9000.0"/>
<use href="#d13" stroke="#ff7a22" stroke-width="12.6" stroke-linecap="butt" stroke-dasharray="23.9 26.4 25.0 27.1 25.0 30.5 25.0 31.6 25.0 24.7 25.0 32.8 25.0 19.0 25.0 22.3 25.0 32.9 25.0 32.5 25.0 19.1 25.0 48.7 25.0 33.7 25.0 31.0 25.0 31.1 25.0 31.0 25.0 26.3 25.0 34.7 25.0 31.6 25.0 31.9 25.0 30.6 25.0 29.5 25.0 31.8 25.0 31.0 25.0 31.8 25.0 30.3 25.0 31.4 25.0 31.4 25.0 29.8 25.0 31.8 25.0 29.6 25.0 35.5 25.0 27.4 25.0 31.0 25.0 31.8 25.0 31.1 25.0 30.4 25.0 36.1 25.0 27.3 25.0 27.1 25.0 33.8 25.0 31.6 25.0 29.5 25.0 33.8 25.0 29.3 25.0 31.8 25.0 24.2 25.0 22.9 25.0 25.5 25.0 29.8 25.0 34.4 25.0 30.4 25.0 32.3 25.0 29.1 25.0 29.8 25.0 37.9 25.0 9000.0"/>
</g>
<g stroke="#070b05" stroke-width="5.2" fill="none" stroke-linecap="butt">
<path d="M282.8 30 V1381.5"/>
<path d="M280.2 1353.6 H1925.0"/>
<path d="M385.3 1353.6 V1369.5"/>
<path d="M487.8 1353.6 V1381.5"/>
<path d="M590.2 1353.6 V1369.5"/>
<path d="M692.7 1353.6 V1381.5"/>
<path d="M795.2 1353.6 V1369.5"/>
<path d="M897.7 1353.6 V1381.5"/>
<path d="M1000.1 1353.6 V1369.5"/>
<path d="M1102.6 1353.6 V1381.5"/>
<path d="M1205.1 1353.6 V1369.5"/>
<path d="M1307.5 1353.6 V1381.5"/>
<path d="M1410.0 1353.6 V1369.5"/>
<path d="M1512.5 1353.6 V1381.5"/>
<path d="M1615.0 1353.6 V1369.5"/>
<path d="M1717.5 1353.6 V1381.5"/>
<path d="M1819.9 1353.6 V1369.5"/>
<path d="M1922.4 1353.6 V1381.5"/>
<path d="M282.8 1271.7 H269.5"/>
<path d="M282.8 1144.3 H255.5"/>
<path d="M282.8 1016.9 H269.5"/>
<path d="M282.8 889.5 H255.5"/>
<path d="M282.8 762.1 H269.5"/>
<path d="M282.8 634.7 H255.5"/>
<path d="M282.8 507.3 H269.5"/>
<path d="M282.8 379.9 H255.5"/>
<path d="M282.8 252.5 H269.5"/>
<path d="M282.8 125.1 H255.5"/>
</g>
<g font-family="'Liberation Sans', Arial, Helvetica, sans-serif" fill="#070b05">
<g font-size="56.5" text-anchor="middle">
<text x="281.6" y="1441.5">400</text>
<text x="486.6" y="1441.5">450</text>
<text x="691.5" y="1441.5">500</text>
<text x="896.5" y="1441.5">550</text>
<text x="1101.4" y="1441.5">600</text>
<text x="1306.3" y="1441.5">650</text>
<text x="1511.3" y="1441.5">700</text>
<text x="1716.2" y="1441.5">750</text>
<text x="1921.2" y="1441.5">800</text>
</g>
<g font-size="57" text-anchor="end">
<text x="239.5" y="1159.3">0.1</text>
<text x="239.5" y="904.5">0.2</text>
<text x="239.5" y="649.7">0.3</text>
<text x="239.5" y="394.9">0.4</text>
<text x="239.5" y="140.1">0.5</text>
</g>
<text font-size="69.2" text-anchor="middle" transform="translate(84.4 690.5) rotate(-90)">Absorbance</text>
<text font-size="70" x="1002" y="1559.5"><tspan font-family="'Liberation Serif', 'DejaVu Serif', serif" font-size="72">λ</tspan><tspan dx="3"> (nm)</tspan></text>
</g>
<g stroke="#070b05" stroke-width="2.8" fill="#070b05">
<path d="M601.5 302 V778"/><path d="M592 776 H611 L601.5 811 Z" stroke="none"/>
<path d="M1189.5 754 V275"/><path d="M1180 277 H1199 L1189.5 242 Z" stroke="none"/>
</g>
<g stroke="#070b05" fill="none">
<path d="M1392.8 52.0 V562.7 H1905.2 V52.0" stroke-width="3"/>
<g stroke-width="2.2">
<path d="M1409.2 562.7 V569.7"/>
<path d="M1567.5 562.7 V569.7"/>
<path d="M1725.7 562.7 V569.7"/>
<path d="M1884.0 562.7 V569.7"/>
<path d="M1488.3 562.7 V567.2" stroke-opacity=".45"/>
<path d="M1646.6 562.7 V567.2" stroke-opacity=".45"/>
<path d="M1804.9 562.7 V567.2" stroke-opacity=".45"/>
<path d="M1392.8 516.6 H1385.8"/>
<path d="M1392.8 410.9 H1385.8"/>
<path d="M1392.8 305.2 H1385.8"/>
<path d="M1392.8 199.5 H1385.8"/>
<path d="M1392.8 93.8 H1385.8"/>
<path d="M1392.8 463.8 H1388.8" stroke-opacity=".3"/>
<path d="M1392.8 358.0 H1388.8" stroke-opacity=".3"/>
<path d="M1392.8 252.3 H1388.8" stroke-opacity=".3"/>
<path d="M1392.8 146.6 H1388.8" stroke-opacity=".3"/>
</g>
<path d="M1409.2,545.4 L1415.5,532.6 L1421.9,519.6 L1428.2,506.5 L1434.5,493.3 L1440.9,480.1 L1447.2,466.9 L1453.5,453.7 L1459.8,440.4 L1466.2,427.1 L1472.5,413.7 L1478.8,400.1 L1485.2,386.8 L1491.5,374.3 L1497.8,362.3 L1504.2,350.7 L1510.5,339.5 L1516.8,328.8 L1523.2,318.4 L1529.5,308.5 L1535.8,299.0 L1542.1,289.8 L1548.5,281.0 L1554.8,272.5 L1561.1,264.5 L1567.5,256.7 L1573.8,249.2 L1580.1,241.9 L1586.5,234.9 L1592.8,228.0 L1599.1,221.3 L1605.5,214.8 L1611.8,208.4 L1618.1,202.2 L1624.4,196.2 L1630.8,190.4 L1637.1,184.8 L1643.4,179.3 L1649.8,174.0 L1656.1,168.9 L1662.4,163.9 L1668.8,159.0 L1675.1,154.3 L1681.4,149.7 L1687.7,145.2 L1694.1,140.9 L1700.4,136.8 L1706.7,133.0 L1713.1,129.2 L1719.4,125.5 L1725.7,122.0 L1732.1,118.5 L1738.4,115.2 L1744.7,112.1 L1751.1,109.2 L1757.4,106.5 L1763.7,103.9 L1770.0,101.5 L1776.4,99.2 L1782.7,97.0 L1789.0,94.9 L1795.4,92.8 L1801.7,90.8 L1808.0,89.0 L1814.4,87.1 L1820.7,85.3 L1827.0,83.6 L1833.4,81.9 L1839.7,80.3 L1846.0,78.7 L1852.3,77.1 L1858.7,75.7 L1865.0,74.2 L1871.3,72.9 L1877.7,71.6 L1884.0,70.3" stroke-width="2.2"/>
</g>
<g fill="#070b05">
<rect x="1404.5" y="537.3" width="10.6" height="10.6"/>
<circle cx="1420.4" cy="509.8" r="5.0"/>
<circle cx="1430.2" cy="486.9" r="5.0"/>
<circle cx="1439.0" cy="455.2" r="5.0"/>
<circle cx="1449.4" cy="444.3" r="5.0"/>
<circle cx="1458.2" cy="434.5" r="5.0"/>
<circle cx="1467.3" cy="417.7" r="5.0"/>
<circle cx="1476.0" cy="417.7" r="5.0"/>
<circle cx="1487.0" cy="409.8" r="5.0"/>
<circle cx="1495.7" cy="374.0" r="5.0"/>
<circle cx="1504.9" cy="361.8" r="5.0"/>
<circle cx="1514.3" cy="331.2" r="5.0"/>
<circle cx="1524.1" cy="326.4" r="5.0"/>
<circle cx="1533.9" cy="325.3" r="5.0"/>
<circle cx="1543.3" cy="298.5" r="5.0"/>
<circle cx="1552.0" cy="262.1" r="5.0"/>
<circle cx="1556.8" cy="261.3" r="5.0"/>
<circle cx="1561.5" cy="257.5" r="5.0"/>
<circle cx="1566.0" cy="253.1" r="5.0"/>
<circle cx="1570.5" cy="250.7" r="5.0"/>
<circle cx="1575.8" cy="247.4" r="5.0"/>
<circle cx="1581.0" cy="241.1" r="5.0"/>
<circle cx="1585.8" cy="234.9" r="5.0"/>
<circle cx="1590.5" cy="230.7" r="5.0"/>
<circle cx="1595.2" cy="226.9" r="5.0"/>
<circle cx="1600.0" cy="220.2" r="5.0"/>
<circle cx="1604.8" cy="215.3" r="5.0"/>
<circle cx="1609.6" cy="212.5" r="5.0"/>
<circle cx="1614.3" cy="209.8" r="5.0"/>
<circle cx="1619.1" cy="204.0" r="5.0"/>
<circle cx="1623.4" cy="193.0" r="5.0"/>
<circle cx="1627.7" cy="184.0" r="5.0"/>
<circle cx="1632.5" cy="180.2" r="5.0"/>
<circle cx="1637.2" cy="173.5" r="5.0"/>
<circle cx="1641.5" cy="169.2" r="5.0"/>
<circle cx="1645.8" cy="166.8" r="5.0"/>
<circle cx="1651.0" cy="164.5" r="5.0"/>
<circle cx="1656.3" cy="159.2" r="5.0"/>
<circle cx="1661.0" cy="152.9" r="5.0"/>
<circle cx="1665.8" cy="148.7" r="5.0"/>
<circle cx="1671.0" cy="152.1" r="5.0"/>
<circle cx="1676.3" cy="152.5" r="5.0"/>
<circle cx="1680.6" cy="147.7" r="5.0"/>
<circle cx="1684.9" cy="144.9" r="5.0"/>
<circle cx="1689.7" cy="141.6" r="5.0"/>
<circle cx="1694.4" cy="135.3" r="5.0"/>
<circle cx="1699.2" cy="128.2" r="5.0"/>
<circle cx="1704.0" cy="123.0" r="5.0"/>
<circle cx="1708.8" cy="126.8" r="5.0"/>
<circle cx="1713.5" cy="127.7" r="5.0"/>
<circle cx="1718.2" cy="122.8" r="5.0"/>
<circle cx="1723.0" cy="120.0" r="5.0"/>
<circle cx="1727.8" cy="117.2" r="5.0"/>
<circle cx="1732.6" cy="111.5" r="5.0"/>
<circle cx="1736.8" cy="107.7" r="5.0"/>
<circle cx="1741.1" cy="105.8" r="5.0"/>
<circle cx="1745.9" cy="108.2" r="5.0"/>
<circle cx="1750.7" cy="107.7" r="5.0"/>
<circle cx="1755.5" cy="102.8" r="5.0"/>
<circle cx="1760.2" cy="100.0" r="5.0"/>
<circle cx="1765.0" cy="97.7" r="5.0"/>
<circle cx="1769.7" cy="92.4" r="5.0"/>
<circle cx="1774.5" cy="89.5" r="5.0"/>
<circle cx="1779.3" cy="88.6" r="5.0"/>
<circle cx="1784.0" cy="92.9" r="5.0"/>
<circle cx="1788.8" cy="94.3" r="5.0"/>
<circle cx="1793.1" cy="90.0" r="5.0"/>
<circle cx="1797.4" cy="87.7" r="5.0"/>
<circle cx="1802.2" cy="86.8" r="5.0"/>
<circle cx="1806.9" cy="82.9" r="5.0"/>
<circle cx="1811.7" cy="84.3" r="5.0"/>
<circle cx="1816.5" cy="87.7" r="5.0"/>
<circle cx="1821.2" cy="88.2" r="5.0"/>
<circle cx="1826.0" cy="85.8" r="5.0"/>
<circle cx="1830.8" cy="80.9" r="5.0"/>
<circle cx="1835.5" cy="78.1" r="5.0"/>
<circle cx="1840.2" cy="76.8" r="5.0"/>
<circle cx="1845.0" cy="72.4" r="5.0"/>
<circle cx="1849.8" cy="73.3" r="5.0"/>
<circle cx="1854.6" cy="76.2" r="5.0"/>
<circle cx="1859.3" cy="74.8" r="5.0"/>
<circle cx="1864.1" cy="70.5" r="5.0"/>
<circle cx="1868.9" cy="70.0" r="5.0"/>
<circle cx="1873.7" cy="71.5" r="5.0"/>
<circle cx="1878.5" cy="71.5" r="5.0"/>
<circle cx="1883.2" cy="68.6" r="5.0"/>
<circle cx="1884.6" cy="68.5" r="5.0"/>
<circle cx="1886.0" cy="70.5" r="5.0"/>
<circle cx="1441.9" cy="80.5" r="5.6"/>
</g>
<g font-family="'Liberation Sans', Arial, Helvetica, sans-serif" fill="#070b05">
<g font-size="33.5" text-anchor="end">
<text x="1380.5" y="525.9">0.1</text>
<text x="1380.5" y="420.2">0.2</text>
<text x="1380.5" y="314.5">0.3</text>
<text x="1380.5" y="208.8">0.4</text>
<text x="1380.5" y="103.1">0.5</text>
</g>
<g font-size="33.5" text-anchor="middle">
<text x="1409.2" y="603">0</text>
<text x="1567.5" y="603">500</text>
<text x="1725.7" y="603">1000</text>
<text x="1884.0" y="603">1500</text>
<text x="1649" y="640">t (s)</text>
<text transform="translate(1320.7 296.5) rotate(-90)">Absorbance</text>
</g>
<text font-size="40.5" x="1496.5" y="94.5">A (620 nm)</text>
<text font-size="40.5" x="1574.5" y="349.5">k = 1.52 x 10<tspan font-size="24" dy="-17">-3</tspan><tspan dy="17"> s</tspan><tspan font-size="24" dy="-17">-1</tspan></text>
</g>
</svg>
</body></html>
